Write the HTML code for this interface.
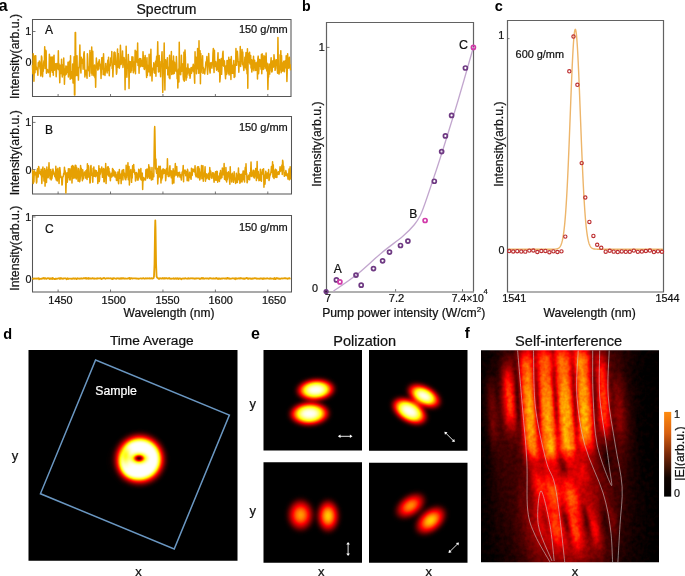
<!DOCTYPE html>
<html><head><meta charset="utf-8"><style>
html,body{margin:0;padding:0;background:#fff;width:685px;height:576px;overflow:hidden}
svg{display:block;font-family:"Liberation Sans", sans-serif;will-change:transform}
</style></head><body>
<svg width="685" height="576" viewBox="0 0 685 576">
<rect width="685" height="576" fill="#fff"/>
<rect x="32.5" y="19.5" width="258.5" height="77.0" fill="#fff" stroke="none"/>
<line x1="58.1" y1="96.5" x2="58.1" y2="94" stroke="#555" stroke-width="0.8"/>
<line x1="110.53" y1="96.5" x2="110.53" y2="94" stroke="#555" stroke-width="0.8"/>
<line x1="162.95" y1="96.5" x2="162.95" y2="94" stroke="#555" stroke-width="0.8"/>
<line x1="215.38" y1="96.5" x2="215.38" y2="94" stroke="#555" stroke-width="0.8"/>
<line x1="267.8" y1="96.5" x2="267.8" y2="94" stroke="#555" stroke-width="0.8"/>
<line x1="32.5" y1="31.5" x2="35.5" y2="31.5" stroke="#555" stroke-width="0.8"/>
<line x1="32.5" y1="62.2" x2="35.5" y2="62.2" stroke="#555" stroke-width="0.8"/>
<path d="M32.5,19.5 H291.0 V96.5 H32.5 Z" fill="none" stroke="#555" stroke-width="1.05"/>
<polyline points="32.50,64.87 32.86,73.74 33.22,53.85 33.58,65.41 33.94,81.27 34.29,70.42 34.65,56.04 35.01,72.74 35.37,55.99 35.73,55.70 36.09,69.27 36.45,66.99 36.81,69.36 37.16,69.96 37.52,71.06 37.88,75.30 38.24,62.65 38.60,66.72 38.96,64.48 39.32,61.11 39.68,62.09 40.04,69.03 40.39,67.72 40.75,76.00 41.11,66.66 41.47,56.00 41.83,57.63 42.19,72.73 42.55,76.74 42.91,69.58 43.26,71.21 43.62,63.07 43.98,60.67 44.34,63.50 44.70,46.76 45.06,68.49 45.42,54.32 45.78,50.19 46.14,51.23 46.49,73.15 46.85,70.05 47.21,69.46 47.57,69.97 47.93,70.11 48.29,72.75 48.65,69.89 49.01,71.91 49.37,54.36 49.72,57.62 50.08,76.86 50.44,68.34 50.80,70.45 51.16,56.97 51.52,63.37 51.88,60.28 52.24,72.32 52.59,56.95 52.95,64.18 53.31,75.31 53.67,59.26 54.03,55.13 54.39,70.22 54.75,68.34 55.11,67.02 55.47,63.66 55.82,67.95 56.18,76.74 56.54,69.92 56.90,63.40 57.26,63.81 57.62,64.09 57.98,68.91 58.34,50.84 58.69,69.85 59.05,63.69 59.41,70.92 59.77,82.70 60.13,69.08 60.49,65.32 60.85,66.47 61.21,73.62 61.57,59.33 61.92,72.78 62.28,77.05 62.64,65.04 63.00,71.49 63.36,74.65 63.72,58.00 64.08,68.80 64.44,84.28 64.79,73.07 65.15,68.83 65.51,74.90 65.87,66.12 66.23,74.18 66.59,66.47 66.95,69.76 67.31,72.58 67.67,72.50 68.02,62.15 68.38,76.93 68.74,73.56 69.10,68.69 69.46,61.21 69.82,62.91 70.18,79.13 70.54,55.85 70.89,78.18 71.25,71.56 71.61,71.65 71.97,76.46 72.33,78.79 72.69,64.07 73.05,83.10 73.41,78.38 73.77,67.22 74.12,56.71 74.48,95.00 74.84,95.00 75.20,32.50 75.56,32.50 75.92,75.64 76.28,64.28 76.64,74.47 77.00,55.64 77.35,75.58 77.71,67.18 78.07,68.18 78.43,80.11 78.79,68.49 79.15,66.80 79.51,59.70 79.87,45.09 80.22,63.86 80.58,67.75 80.94,72.90 81.30,57.15 81.66,63.13 82.02,61.28 82.38,62.02 82.74,59.20 83.10,69.26 83.45,62.50 83.81,53.79 84.17,51.76 84.53,60.58 84.89,77.04 85.25,71.03 85.61,74.78 85.97,70.20 86.32,71.64 86.68,74.24 87.04,78.29 87.40,53.76 87.76,59.13 88.12,69.69 88.48,68.73 88.84,70.88 89.20,66.75 89.55,76.16 89.91,50.54 90.27,62.16 90.63,52.62 90.99,58.81 91.35,73.12 91.71,47.10 92.07,75.26 92.42,66.91 92.78,51.20 93.14,70.79 93.50,72.68 93.86,75.83 94.22,65.77 94.58,65.03 94.94,77.78 95.30,70.61 95.65,87.32 96.01,70.27 96.37,57.97 96.73,65.45 97.09,63.34 97.45,67.19 97.81,70.10 98.17,66.25 98.53,61.64 98.88,69.01 99.24,59.70 99.60,63.85 99.96,63.88 100.32,65.08 100.68,66.74 101.04,78.60 101.40,66.99 101.75,57.71 102.11,57.99 102.47,69.06 102.83,57.36 103.19,74.68 103.55,53.73 103.91,67.80 104.27,74.20 104.63,69.12 104.98,75.42 105.34,70.95 105.70,63.61 106.06,69.44 106.42,68.60 106.78,70.70 107.14,72.92 107.50,63.35 107.85,60.04 108.21,70.59 108.57,57.14 108.93,66.10 109.29,75.73 109.65,65.05 110.01,66.25 110.37,65.26 110.73,57.94 111.08,60.74 111.44,62.00 111.80,51.61 112.16,68.58 112.52,64.46 112.88,76.86 113.24,68.17 113.60,63.50 113.95,52.67 114.31,52.11 114.67,64.24 115.03,52.48 115.39,57.44 115.75,64.62 116.11,65.99 116.47,74.19 116.83,71.88 117.18,57.12 117.54,49.12 117.90,67.19 118.26,53.40 118.62,62.47 118.98,61.64 119.34,68.23 119.70,65.85 120.05,62.27 120.41,45.36 120.77,53.30 121.13,64.44 121.49,61.38 121.85,60.86 122.21,62.60 122.57,50.94 122.93,67.50 123.28,64.50 123.64,60.00 124.00,57.49 124.36,59.05 124.72,62.90 125.08,89.76 125.44,59.92 125.80,69.34 126.16,46.22 126.51,65.81 126.87,77.19 127.23,66.77 127.59,67.91 127.95,64.97 128.31,54.45 128.67,63.17 129.03,88.56 129.38,69.14 129.74,61.62 130.10,65.27 130.46,66.10 130.82,72.41 131.18,61.53 131.54,70.75 131.90,56.78 132.26,56.87 132.61,66.22 132.97,57.03 133.33,72.79 133.69,71.63 134.05,69.10 134.41,61.71 134.77,66.93 135.13,50.26 135.48,73.67 135.84,52.02 136.20,51.33 136.56,61.72 136.92,60.14 137.28,62.46 137.64,43.01 138.00,65.58 138.36,61.07 138.71,59.51 139.07,73.15 139.43,59.82 139.79,58.40 140.15,65.10 140.51,66.68 140.87,58.74 141.23,63.60 141.58,60.19 141.94,66.11 142.30,62.30 142.66,66.41 143.02,51.63 143.38,58.40 143.74,57.46 144.10,68.62 144.46,69.51 144.81,66.73 145.17,55.52 145.53,64.73 145.89,64.37 146.25,70.08 146.61,77.52 146.97,57.64 147.33,75.59 147.68,67.60 148.04,65.49 148.40,65.61 148.76,71.68 149.12,54.27 149.48,68.84 149.84,68.36 150.20,75.85 150.56,62.26 150.91,49.18 151.27,68.36 151.63,67.80 151.99,80.95 152.35,69.73 152.71,69.88 153.07,68.20 153.43,67.92 153.79,62.72 154.14,72.68 154.50,63.97 154.86,73.25 155.22,71.87 155.58,61.27 155.94,76.25 156.30,60.93 156.66,56.33 157.01,66.29 157.37,58.70 157.73,41.70 158.09,62.47 158.45,71.92 158.81,69.17 159.17,55.62 159.53,71.53 159.89,64.82 160.24,67.84 160.60,76.78 160.96,61.51 161.32,65.83 161.68,57.51 162.04,51.77 162.40,69.70 162.76,92.45 163.11,71.64 163.47,67.91 163.83,62.96 164.19,43.08 164.55,71.47 164.91,90.07 165.27,62.03 165.63,59.78 165.99,65.53 166.34,65.71 166.70,68.53 167.06,64.32 167.42,57.65 167.78,74.87 168.14,72.39 168.50,67.56 168.86,67.50 169.21,77.67 169.57,55.13 169.93,78.84 170.29,67.72 170.65,65.96 171.01,65.25 171.37,51.42 171.73,74.42 172.09,63.25 172.44,61.20 172.80,70.62 173.16,73.95 173.52,56.08 173.88,66.76 174.24,73.54 174.60,62.37 174.96,69.54 175.32,70.12 175.67,64.61 176.03,71.55 176.39,56.44 176.75,64.09 177.11,78.74 177.47,70.53 177.83,87.88 178.19,75.34 178.54,69.03 178.90,81.94 179.26,42.13 179.62,73.95 179.98,72.10 180.34,68.47 180.70,74.71 181.06,67.83 181.42,55.31 181.77,71.17 182.13,63.66 182.49,68.05 182.85,64.08 183.21,76.38 183.57,79.89 183.93,52.33 184.29,81.32 184.64,72.31 185.00,50.09 185.36,56.93 185.72,70.97 186.08,80.28 186.44,70.52 186.80,77.78 187.16,67.73 187.52,74.04 187.87,63.89 188.23,72.22 188.59,68.24 188.95,70.57 189.31,75.49 189.67,69.01 190.03,78.19 190.39,75.11 190.74,69.64 191.10,67.50 191.46,73.27 191.82,71.93 192.18,70.25 192.54,67.16 192.90,66.74 193.26,64.34 193.62,71.71 193.97,65.49 194.33,76.56 194.69,83.23 195.05,51.73 195.41,67.12 195.77,63.90 196.13,57.37 196.49,73.76 196.84,60.01 197.20,68.87 197.56,48.52 197.92,56.50 198.28,62.20 198.64,73.14 199.00,40.76 199.36,65.25 199.72,72.95 200.07,50.80 200.43,83.75 200.79,53.57 201.15,72.53 201.51,63.64 201.87,68.22 202.23,62.87 202.59,55.71 202.95,73.36 203.30,67.37 203.66,72.48 204.02,69.41 204.38,69.24 204.74,73.88 205.10,70.14 205.46,67.25 205.82,62.63 206.17,61.43 206.53,61.26 206.89,56.59 207.25,69.53 207.61,74.19 207.97,66.42 208.33,66.01 208.69,53.55 209.05,61.86 209.40,65.46 209.76,70.88 210.12,73.04 210.48,63.08 210.84,62.79 211.20,62.65 211.56,64.69 211.92,68.26 212.27,63.78 212.63,63.51 212.99,52.84 213.35,48.39 213.71,65.77 214.07,72.59 214.43,50.17 214.79,65.16 215.15,61.16 215.50,66.55 215.86,61.74 216.22,66.48 216.58,70.17 216.94,69.30 217.30,66.23 217.66,59.32 218.02,52.68 218.37,71.49 218.73,70.81 219.09,71.35 219.45,59.51 219.81,82.01 220.17,78.30 220.53,67.17 220.89,60.73 221.25,58.54 221.60,74.37 221.96,65.68 222.32,63.71 222.68,53.64 223.04,51.25 223.40,65.52 223.76,66.22 224.12,60.62 224.47,61.18 224.83,69.06 225.19,73.19 225.55,78.82 225.91,65.93 226.27,67.21 226.63,74.40 226.99,60.42 227.35,60.45 227.70,65.99 228.06,69.38 228.42,73.54 228.78,57.19 229.14,74.94 229.50,66.09 229.86,60.98 230.22,59.60 230.58,65.48 230.93,79.38 231.29,56.55 231.65,67.65 232.01,73.17 232.37,65.40 232.73,67.47 233.09,73.14 233.45,66.04 233.80,60.57 234.16,77.45 234.52,68.28 234.88,76.74 235.24,64.41 235.60,63.41 235.96,48.48 236.32,63.76 236.68,65.29 237.03,59.01 237.39,51.21 237.75,56.43 238.11,60.64 238.47,61.96 238.83,72.18 239.19,63.50 239.55,61.76 239.90,61.84 240.26,46.48 240.62,66.55 240.98,58.13 241.34,55.16 241.70,54.56 242.06,49.51 242.42,64.23 242.78,51.97 243.13,65.76 243.49,66.21 243.85,70.52 244.21,63.51 244.57,62.69 244.93,57.13 245.29,67.75 245.65,58.07 246.00,52.60 246.36,69.41 246.72,64.87 247.08,73.68 247.44,48.73 247.80,88.22 248.16,53.22 248.52,62.70 248.88,62.52 249.23,53.22 249.59,52.25 249.95,63.92 250.31,63.30 250.67,55.47 251.03,67.94 251.39,59.59 251.75,72.03 252.11,69.47 252.46,60.18 252.82,68.69 253.18,63.41 253.54,56.29 253.90,70.73 254.26,64.23 254.62,60.26 254.98,66.99 255.33,62.69 255.69,70.42 256.05,63.07 256.41,66.05 256.77,70.13 257.13,62.12 257.49,79.08 257.85,58.30 258.21,56.12 258.56,73.74 258.92,69.34 259.28,59.50 259.64,59.43 260.00,66.15 260.36,60.34 260.72,65.58 261.08,69.23 261.43,54.41 261.79,73.85 262.15,53.67 262.51,62.41 262.87,61.26 263.23,69.51 263.59,59.10 263.95,55.61 264.31,66.19 264.66,56.38 265.02,68.67 265.38,61.84 265.74,61.41 266.10,52.96 266.46,65.25 266.82,71.05 267.18,63.19 267.53,68.99 267.89,89.55 268.25,75.33 268.61,76.93 268.97,64.05 269.33,71.79 269.69,74.10 270.05,63.89 270.41,66.31 270.76,62.47 271.12,57.86 271.48,70.77 271.84,72.07 272.20,70.92 272.56,61.20 272.92,60.80 273.28,67.21 273.63,66.45 273.99,54.74 274.35,60.25 274.71,59.14 275.07,70.36 275.43,68.66 275.79,61.21 276.15,60.96 276.51,59.67 276.86,59.83 277.22,68.40 277.58,73.22 277.94,37.56 278.30,65.51 278.66,70.45 279.02,74.06 279.38,71.22 279.74,69.37 280.09,54.83 280.45,63.49 280.81,50.63 281.17,72.76 281.53,55.45 281.89,71.18 282.25,62.80 282.61,65.97 282.96,71.05 283.32,64.79 283.68,61.14 284.04,68.42 284.40,71.81 284.76,61.36 285.12,60.83 285.48,67.29 285.84,67.90 286.19,55.82 286.55,67.15 286.91,81.48 287.27,69.82 287.63,53.78 287.99,61.63 288.35,63.95 288.71,68.14 289.06,60.95 289.42,57.30 289.78,67.25 290.14,64.49 290.50,70.41" fill="none" stroke="#E6A002" stroke-width="1.5" stroke-linejoin="round"/>
<text x="28.2" y="35.4" font-size="10.8" text-anchor="middle" font-weight="normal" fill="#111" stroke="#111" stroke-width="0.22" >1</text>
<text x="28.6" y="66.1" font-size="10.8" text-anchor="middle" font-weight="normal" fill="#111" stroke="#111" stroke-width="0.22" >0</text>
<text x="45" y="34.1" font-size="12" text-anchor="start" font-weight="normal" fill="#111" stroke="#111" stroke-width="0.22" >A</text>
<text x="287.8" y="33.1" font-size="11.0" text-anchor="end" font-weight="normal" fill="#111" stroke="#111" stroke-width="0.22" >150 g/mm</text>
<text x="0" y="0" font-size="12.25" text-anchor="middle" font-weight="normal" fill="#111" stroke="#111" stroke-width="0.22" transform="translate(19.0,56.5) rotate(-90)">Intensity(arb.u.)</text>
<rect x="32.5" y="116.5" width="258.5" height="77.5" fill="#fff" stroke="none"/>
<line x1="58.1" y1="194" x2="58.1" y2="191.5" stroke="#555" stroke-width="0.8"/>
<line x1="110.53" y1="194" x2="110.53" y2="191.5" stroke="#555" stroke-width="0.8"/>
<line x1="162.95" y1="194" x2="162.95" y2="191.5" stroke="#555" stroke-width="0.8"/>
<line x1="215.38" y1="194" x2="215.38" y2="191.5" stroke="#555" stroke-width="0.8"/>
<line x1="267.8" y1="194" x2="267.8" y2="191.5" stroke="#555" stroke-width="0.8"/>
<line x1="32.5" y1="122.4" x2="35.5" y2="122.4" stroke="#555" stroke-width="0.8"/>
<line x1="32.5" y1="169.6" x2="35.5" y2="169.6" stroke="#555" stroke-width="0.8"/>
<path d="M32.5,116.5 H291.5 V194.0 H32.5 Z" fill="none" stroke="#555" stroke-width="1.05"/>
<polyline points="32.50,169.43 32.86,178.18 33.22,183.47 33.58,171.41 33.94,182.00 34.29,170.81 34.65,174.43 35.01,174.67 35.37,173.30 35.73,172.32 36.09,176.00 36.45,183.08 36.81,181.84 37.16,170.48 37.52,168.83 37.88,169.98 38.24,177.08 38.60,166.42 38.96,167.50 39.32,173.44 39.68,171.47 40.04,173.61 40.39,173.21 40.75,174.85 41.11,169.37 41.47,175.03 41.83,183.53 42.19,175.07 42.55,170.22 42.91,167.09 43.26,176.45 43.62,174.24 43.98,180.89 44.34,175.82 44.70,168.40 45.06,186.11 45.42,175.71 45.78,174.04 46.14,169.96 46.49,182.59 46.85,167.07 47.21,173.64 47.57,169.78 47.93,177.73 48.29,177.24 48.65,170.97 49.01,162.67 49.37,174.71 49.72,173.32 50.08,178.85 50.44,170.07 50.80,169.43 51.16,179.88 51.52,171.80 51.88,178.65 52.24,175.85 52.59,171.37 52.95,169.07 53.31,171.13 53.67,171.67 54.03,174.72 54.39,173.23 54.75,176.34 55.11,174.11 55.47,177.84 55.82,166.25 56.18,179.93 56.54,169.15 56.90,174.89 57.26,181.03 57.62,169.75 57.98,168.18 58.34,178.77 58.69,177.11 59.05,183.52 59.41,174.09 59.77,167.46 60.13,170.60 60.49,174.69 60.85,177.60 61.21,177.21 61.57,177.09 61.92,185.03 62.28,184.63 62.64,176.89 63.00,176.87 63.36,175.88 63.72,173.17 64.08,174.00 64.44,167.18 64.79,170.92 65.15,170.62 65.51,175.47 65.87,193.00 66.23,182.25 66.59,176.14 66.95,172.66 67.31,182.26 67.67,173.67 68.02,175.33 68.38,168.70 68.74,177.62 69.10,170.62 69.46,179.87 69.82,168.70 70.18,180.02 70.54,171.14 70.89,173.00 71.25,172.00 71.61,166.18 71.97,182.96 72.33,173.09 72.69,165.58 73.05,178.39 73.41,166.31 73.77,168.28 74.12,177.68 74.48,174.10 74.84,177.90 75.20,165.21 75.56,177.49 75.92,165.42 76.28,178.92 76.64,167.25 77.00,172.86 77.35,175.56 77.71,176.32 78.07,181.28 78.43,168.58 78.79,169.71 79.15,173.81 79.51,181.73 79.87,181.19 80.22,178.48 80.58,165.54 80.94,169.48 81.30,168.14 81.66,175.14 82.02,177.29 82.38,180.79 82.74,169.80 83.10,177.56 83.45,178.85 83.81,174.35 84.17,175.08 84.53,171.88 84.89,173.58 85.25,174.42 85.61,178.09 85.97,170.60 86.32,175.46 86.68,169.82 87.04,179.55 87.40,163.84 87.76,175.47 88.12,177.35 88.48,165.86 88.84,171.27 89.20,175.95 89.55,173.61 89.91,182.97 90.27,182.41 90.63,167.11 90.99,165.47 91.35,171.76 91.71,175.15 92.07,174.46 92.42,175.45 92.78,182.29 93.14,168.34 93.50,175.64 93.86,166.89 94.22,176.28 94.58,174.68 94.94,172.01 95.30,170.19 95.65,176.80 96.01,176.03 96.37,170.68 96.73,173.71 97.09,172.99 97.45,172.59 97.81,183.46 98.17,175.49 98.53,179.52 98.88,165.85 99.24,181.62 99.60,178.95 99.96,168.85 100.32,174.05 100.68,171.00 101.04,170.89 101.40,171.39 101.75,166.99 102.11,172.17 102.47,177.36 102.83,174.85 103.19,169.12 103.55,168.51 103.91,181.69 104.27,181.80 104.63,176.09 104.98,168.95 105.34,173.26 105.70,163.47 106.06,183.43 106.42,175.95 106.78,175.07 107.14,172.37 107.50,166.93 107.85,174.53 108.21,166.83 108.57,175.97 108.93,168.37 109.29,176.08 109.65,171.71 110.01,176.84 110.37,180.71 110.73,175.38 111.08,174.67 111.44,173.34 111.80,176.98 112.16,176.27 112.52,168.43 112.88,173.63 113.24,169.54 113.60,175.84 113.95,170.52 114.31,173.64 114.67,174.55 115.03,177.10 115.39,172.05 115.75,172.87 116.11,176.81 116.47,180.40 116.83,175.04 117.18,180.21 117.54,179.98 117.90,171.88 118.26,181.58 118.62,183.72 118.98,178.59 119.34,169.47 119.70,174.65 120.05,178.34 120.41,174.47 120.77,175.12 121.13,183.62 121.49,173.61 121.85,172.25 122.21,170.15 122.57,172.51 122.93,180.06 123.28,169.71 123.64,169.61 124.00,175.22 124.36,172.90 124.72,176.34 125.08,178.53 125.44,179.67 125.80,179.83 126.16,165.20 126.51,177.79 126.87,170.01 127.23,175.43 127.59,170.57 127.95,162.75 128.31,179.75 128.67,178.16 129.03,166.41 129.38,184.94 129.74,171.75 130.10,171.61 130.46,171.30 130.82,169.56 131.18,176.76 131.54,182.36 131.90,173.04 132.26,178.03 132.61,165.67 132.97,172.31 133.33,171.80 133.69,164.55 134.05,171.93 134.41,169.84 134.77,174.12 135.13,172.52 135.48,181.08 135.84,180.20 136.20,173.44 136.56,172.45 136.92,174.51 137.28,173.85 137.64,179.71 138.00,180.18 138.36,178.36 138.71,169.36 139.07,172.62 139.43,169.91 139.79,177.02 140.15,174.41 140.51,178.93 140.87,168.57 141.23,179.98 141.58,178.16 141.94,173.44 142.30,173.13 142.66,189.45 143.02,177.14 143.38,177.70 143.74,180.53 144.10,178.10 144.46,178.95 144.81,178.53 145.17,178.84 145.53,179.95 145.89,169.86 146.25,170.58 146.61,176.04 146.97,169.01 147.33,178.16 147.68,169.53 148.04,176.87 148.40,176.25 148.76,164.75 149.12,176.68 149.48,178.45 149.84,167.33 150.20,171.56 150.56,177.88 150.91,171.80 151.27,179.99 151.63,178.29 151.99,167.45 152.35,177.67 152.71,179.61 153.07,174.23 153.43,174.61 153.79,176.70 154.14,152.43 154.50,130.38 154.70,126.60 154.86,130.61 155.22,151.61 155.58,169.09 155.94,159.09 156.30,171.30 156.66,173.36 157.01,170.90 157.37,168.38 157.73,183.94 158.09,178.49 158.45,177.39 158.81,166.26 159.17,170.41 159.53,168.61 159.89,176.90 160.24,166.17 160.60,172.84 160.96,182.91 161.32,173.18 161.68,179.85 162.04,169.94 162.40,177.91 162.76,171.11 163.11,168.75 163.47,173.78 163.83,169.89 164.19,169.59 164.55,173.27 164.91,173.13 165.27,170.22 165.63,180.77 165.99,177.52 166.34,169.08 166.70,168.37 167.06,174.31 167.42,158.83 167.78,171.18 168.14,176.24 168.50,176.19 168.86,176.64 169.21,176.05 169.57,168.10 169.93,165.76 170.29,175.01 170.65,170.49 171.01,176.31 171.37,177.75 171.73,170.90 172.09,172.53 172.44,183.77 172.80,177.94 173.16,168.75 173.52,177.08 173.88,182.92 174.24,170.93 174.60,176.32 174.96,171.16 175.32,163.50 175.67,175.05 176.03,174.09 176.39,171.52 176.75,166.57 177.11,175.47 177.47,172.79 177.83,176.91 178.19,172.48 178.54,173.68 178.90,173.11 179.26,175.42 179.62,172.35 179.98,177.12 180.34,174.39 180.70,175.45 181.06,178.18 181.42,180.07 181.77,175.25 182.13,171.89 182.49,174.81 182.85,171.27 183.21,165.44 183.57,181.77 183.93,170.29 184.29,173.42 184.64,172.48 185.00,169.93 185.36,170.97 185.72,175.78 186.08,174.80 186.44,171.41 186.80,172.03 187.16,180.82 187.52,169.31 187.87,171.23 188.23,176.80 188.59,180.83 188.95,177.32 189.31,176.44 189.67,172.18 190.03,174.28 190.39,177.76 190.74,177.82 191.10,179.29 191.46,168.30 191.82,175.10 192.18,175.35 192.54,170.42 192.90,168.98 193.26,171.58 193.62,169.40 193.97,170.72 194.33,170.66 194.69,172.09 195.05,165.63 195.41,174.52 195.77,175.57 196.13,176.88 196.49,174.06 196.84,176.35 197.20,168.17 197.56,166.89 197.92,177.82 198.28,177.47 198.64,166.66 199.00,177.44 199.36,168.70 199.72,180.00 200.07,179.08 200.43,173.92 200.79,172.05 201.15,173.94 201.51,165.51 201.87,178.78 202.23,172.70 202.59,173.75 202.95,165.79 203.30,181.20 203.66,176.93 204.02,176.77 204.38,173.61 204.74,172.27 205.10,166.79 205.46,181.23 205.82,173.58 206.17,178.89 206.53,176.46 206.89,173.98 207.25,177.24 207.61,175.20 207.97,178.36 208.33,178.89 208.69,173.28 209.05,178.67 209.40,179.56 209.76,167.52 210.12,172.60 210.48,170.75 210.84,171.92 211.20,177.73 211.56,177.35 211.92,178.29 212.27,176.17 212.63,172.63 212.99,175.45 213.35,172.88 213.71,178.05 214.07,182.29 214.43,174.22 214.79,180.45 215.15,173.81 215.50,171.78 215.86,176.41 216.22,180.25 216.58,171.24 216.94,172.41 217.30,171.54 217.66,182.21 218.02,175.75 218.37,176.95 218.73,180.40 219.09,178.32 219.45,181.40 219.81,173.02 220.17,177.00 220.53,170.47 220.89,178.72 221.25,174.55 221.60,175.82 221.96,177.58 222.32,168.05 222.68,169.20 223.04,174.85 223.40,173.06 223.76,173.84 224.12,163.41 224.47,179.13 224.83,172.16 225.19,176.79 225.55,179.96 225.91,167.54 226.27,173.82 226.63,181.92 226.99,172.76 227.35,179.64 227.70,177.79 228.06,174.03 228.42,171.75 228.78,174.10 229.14,173.54 229.50,180.47 229.86,184.23 230.22,166.72 230.58,176.71 230.93,174.66 231.29,174.48 231.65,182.01 232.01,174.00 232.37,173.28 232.73,179.36 233.09,176.98 233.45,182.32 233.80,179.98 234.16,171.66 234.52,179.41 234.88,178.77 235.24,178.51 235.60,183.57 235.96,182.54 236.32,173.15 236.68,175.90 237.03,177.44 237.39,182.47 237.75,174.91 238.11,175.48 238.47,167.91 238.83,179.79 239.19,176.44 239.55,174.02 239.90,183.17 240.26,181.36 240.62,181.84 240.98,174.57 241.34,176.24 241.70,174.34 242.06,181.98 242.42,176.35 242.78,174.40 243.13,170.93 243.49,179.64 243.85,171.19 244.21,179.12 244.57,181.92 244.93,171.59 245.29,167.36 245.65,174.18 246.00,163.86 246.36,173.26 246.72,173.59 247.08,182.76 247.44,181.58 247.80,176.44 248.16,179.33 248.52,175.31 248.88,175.17 249.23,176.82 249.59,179.84 249.95,172.56 250.31,176.16 250.67,171.29 251.03,161.95 251.39,172.91 251.75,176.54 252.11,174.72 252.46,173.16 252.82,172.36 253.18,170.19 253.54,176.93 253.90,170.56 254.26,178.03 254.62,176.28 254.98,173.25 255.33,173.71 255.69,168.55 256.05,175.70 256.41,180.57 256.77,174.78 257.13,161.53 257.49,178.01 257.85,172.89 258.21,171.45 258.56,174.25 258.92,180.69 259.28,175.97 259.64,174.73 260.00,180.34 260.36,169.14 260.72,172.42 261.08,177.72 261.43,181.34 261.79,172.29 262.15,174.55 262.51,169.44 262.87,170.46 263.23,173.44 263.59,168.81 263.95,187.20 264.31,175.02 264.66,178.22 265.02,184.13 265.38,175.23 265.74,171.22 266.10,173.10 266.46,173.43 266.82,178.39 267.18,178.47 267.53,172.93 267.89,177.01 268.25,175.81 268.61,169.42 268.97,180.50 269.33,179.05 269.69,176.34 270.05,174.03 270.41,174.99 270.76,173.01 271.12,170.75 271.48,166.43 271.84,168.16 272.20,172.42 272.56,161.78 272.92,176.89 273.28,164.64 273.63,175.47 273.99,178.52 274.35,175.98 274.71,171.62 275.07,170.26 275.43,169.20 275.79,177.37 276.15,174.55 276.51,170.10 276.86,177.41 277.22,171.99 277.58,172.87 277.94,174.23 278.30,172.52 278.66,171.66 279.02,174.40 279.38,172.82 279.74,170.62 280.09,166.65 280.45,171.14 280.81,169.31 281.17,170.19 281.53,170.79 281.89,165.12 282.25,174.52 282.61,160.23 282.96,161.99 283.32,170.30 283.68,166.28 284.04,173.99 284.40,176.33 284.76,172.87 285.12,175.58 285.48,173.65 285.84,170.55 286.19,172.37 286.55,175.14 286.91,175.83 287.27,174.17 287.63,174.61 287.99,179.11 288.35,173.21 288.71,175.48 289.06,169.10 289.42,179.86 289.78,178.78 290.14,166.67 290.50,179.54" fill="none" stroke="#E6A002" stroke-width="1.5" stroke-linejoin="round"/>
<text x="28.2" y="126.3" font-size="10.8" text-anchor="middle" font-weight="normal" fill="#111" stroke="#111" stroke-width="0.22" >1</text>
<text x="28.6" y="173.5" font-size="10.8" text-anchor="middle" font-weight="normal" fill="#111" stroke="#111" stroke-width="0.22" >0</text>
<text x="45" y="133.9" font-size="12" text-anchor="start" font-weight="normal" fill="#111" stroke="#111" stroke-width="0.22" >B</text>
<text x="287.8" y="130.7" font-size="11.0" text-anchor="end" font-weight="normal" fill="#111" stroke="#111" stroke-width="0.22" >150 g/mm</text>
<text x="0" y="0" font-size="12.25" text-anchor="middle" font-weight="normal" fill="#111" stroke="#111" stroke-width="0.22" transform="translate(19.0,152.8) rotate(-90)">Intensity(arb.u.)</text>
<rect x="32.5" y="215.5" width="258.5" height="76.5" fill="#fff" stroke="none"/>
<line x1="58.1" y1="292" x2="58.1" y2="289.5" stroke="#555" stroke-width="0.8"/>
<line x1="110.53" y1="292" x2="110.53" y2="289.5" stroke="#555" stroke-width="0.8"/>
<line x1="162.95" y1="292" x2="162.95" y2="289.5" stroke="#555" stroke-width="0.8"/>
<line x1="215.38" y1="292" x2="215.38" y2="289.5" stroke="#555" stroke-width="0.8"/>
<line x1="267.8" y1="292" x2="267.8" y2="289.5" stroke="#555" stroke-width="0.8"/>
<line x1="32.5" y1="216.9" x2="35.5" y2="216.9" stroke="#555" stroke-width="0.8"/>
<line x1="32.5" y1="278.6" x2="35.5" y2="278.6" stroke="#555" stroke-width="0.8"/>
<path d="M32.5,215.5 H291.5 V292.0 H32.5 Z" fill="none" stroke="#555" stroke-width="1.05"/>
<polyline points="32.50,278.03 33.02,278.80 33.53,278.83 34.05,278.38 34.57,278.53 35.09,278.69 35.60,278.48 36.12,278.77 36.64,278.52 37.15,278.67 37.67,278.52 38.19,278.14 38.70,278.26 39.22,279.27 39.74,278.57 40.26,278.82 40.77,278.78 41.29,278.92 41.81,278.63 42.32,278.36 42.84,278.50 43.36,278.03 43.87,278.45 44.39,278.72 44.91,277.98 45.43,278.55 45.94,278.70 46.46,278.82 46.98,278.28 47.49,278.34 48.01,278.05 48.53,278.25 49.05,278.63 49.56,279.00 50.08,278.22 50.60,278.83 51.11,278.60 51.63,278.38 52.15,279.03 52.66,277.89 53.18,278.48 53.70,278.55 54.22,279.02 54.73,278.94 55.25,279.05 55.77,278.53 56.28,278.74 56.80,278.83 57.32,278.62 57.83,278.59 58.35,278.46 58.87,278.40 59.39,278.20 59.90,278.97 60.42,278.39 60.94,277.99 61.45,278.56 61.97,278.49 62.49,278.54 63.01,278.94 63.52,278.47 64.04,278.44 64.56,278.32 65.07,278.49 65.59,278.39 66.11,278.55 66.62,279.26 67.14,278.60 67.66,278.29 68.18,278.97 68.69,278.71 69.21,278.70 69.73,278.67 70.24,278.70 70.76,278.66 71.28,278.84 71.79,278.74 72.31,278.83 72.83,278.38 73.35,278.50 73.86,278.32 74.38,278.73 74.90,278.70 75.41,278.39 75.93,278.64 76.45,279.14 76.96,278.80 77.48,278.23 78.00,278.48 78.52,278.65 79.03,278.49 79.55,278.59 80.07,278.79 80.58,278.58 81.10,278.23 81.62,278.67 82.14,278.48 82.65,278.53 83.17,278.36 83.69,278.16 84.20,278.20 84.72,278.41 85.24,278.24 85.75,277.84 86.27,278.78 86.79,278.22 87.31,278.32 87.82,278.63 88.34,277.91 88.86,278.83 89.37,278.31 89.89,278.66 90.41,278.38 90.92,278.57 91.44,278.53 91.96,278.50 92.48,278.06 92.99,278.14 93.51,278.49 94.03,278.84 94.54,278.37 95.06,278.63 95.58,278.54 96.10,278.62 96.61,278.74 97.13,278.14 97.65,278.57 98.16,278.46 98.68,278.42 99.20,278.29 99.71,278.31 100.23,278.25 100.75,278.23 101.27,279.11 101.78,278.91 102.30,278.50 102.82,278.68 103.33,278.26 103.85,277.82 104.37,278.06 104.88,278.53 105.40,278.85 105.92,278.49 106.44,278.26 106.95,278.44 107.47,278.26 107.99,278.16 108.50,278.44 109.02,278.40 109.54,278.30 110.06,278.28 110.57,278.27 111.09,278.56 111.61,278.84 112.12,278.45 112.64,279.04 113.16,278.11 113.67,278.57 114.19,278.22 114.71,278.46 115.23,278.52 115.74,278.64 116.26,278.78 116.78,278.36 117.29,278.20 117.81,278.45 118.33,278.57 118.84,278.33 119.36,278.72 119.88,278.91 120.40,278.15 120.91,278.59 121.43,278.75 121.95,278.03 122.46,278.55 122.98,278.45 123.50,278.15 124.02,278.82 124.53,278.55 125.05,278.38 125.57,278.61 126.08,278.66 126.60,278.69 127.12,278.64 127.63,278.60 128.15,278.21 128.67,278.40 129.19,278.53 129.70,277.83 130.22,279.02 130.74,278.41 131.25,278.24 131.77,278.06 132.29,278.56 132.80,278.51 133.32,278.36 133.84,278.40 134.36,278.28 134.87,278.32 135.39,278.48 135.91,278.34 136.42,278.67 136.94,278.47 137.46,278.53 137.97,278.60 138.49,278.81 139.01,278.65 139.53,278.56 140.04,278.46 140.56,278.30 141.08,278.42 141.59,278.67 142.11,278.56 142.63,278.41 143.15,278.18 143.66,278.13 144.18,278.58 144.70,278.75 145.21,278.59 145.73,278.17 146.25,278.45 146.76,278.55 147.28,278.28 147.80,278.58 148.32,278.45 148.83,278.30 149.35,278.20 149.87,278.70 150.38,278.59 150.90,278.28 151.42,278.24 151.93,278.68 152.45,278.53 152.97,278.12 153.49,278.23 154.00,276.43 154.52,264.09 155.04,229.35 155.30,220.40 155.55,228.50 156.07,263.99 156.59,276.45 157.11,277.59 157.62,277.90 158.14,278.33 158.66,278.80 159.17,278.24 159.69,278.83 160.21,278.55 160.72,278.23 161.24,278.56 161.76,278.64 162.28,278.28 162.79,277.98 163.31,278.59 163.83,278.23 164.34,278.61 164.86,278.03 165.38,278.47 165.89,278.30 166.41,278.14 166.93,278.44 167.45,278.54 167.96,278.36 168.48,278.21 169.00,278.55 169.51,278.07 170.03,278.63 170.55,278.62 171.07,278.91 171.58,278.71 172.10,278.59 172.62,278.56 173.13,278.51 173.65,278.18 174.17,278.86 174.68,278.63 175.20,278.43 175.72,278.22 176.24,278.86 176.75,278.63 177.27,278.21 177.79,278.66 178.30,278.96 178.82,278.49 179.34,278.60 179.85,278.40 180.37,278.35 180.89,278.76 181.41,279.25 181.92,278.53 182.44,278.47 182.96,278.69 183.47,278.43 183.99,278.68 184.51,278.70 185.03,278.25 185.54,278.24 186.06,278.48 186.58,278.70 187.09,278.57 187.61,278.80 188.13,278.17 188.64,278.62 189.16,278.35 189.68,278.52 190.20,278.58 190.71,278.26 191.23,278.44 191.75,278.22 192.26,278.56 192.78,278.29 193.30,278.38 193.81,278.55 194.33,278.34 194.85,278.78 195.37,278.35 195.88,278.71 196.40,278.57 196.92,278.25 197.43,278.45 197.95,278.30 198.47,278.41 198.98,278.43 199.50,278.94 200.02,278.40 200.54,278.88 201.05,278.61 201.57,278.18 202.09,277.94 202.60,278.66 203.12,278.02 203.64,278.67 204.16,278.75 204.67,278.59 205.19,278.45 205.71,278.44 206.22,278.56 206.74,278.43 207.26,278.37 207.77,278.41 208.29,278.78 208.81,278.35 209.33,278.59 209.84,278.22 210.36,278.33 210.88,278.17 211.39,278.45 211.91,278.67 212.43,278.57 212.94,278.38 213.46,278.65 213.98,278.42 214.50,278.59 215.01,278.57 215.53,278.63 216.05,277.90 216.56,278.18 217.08,278.69 217.60,278.47 218.12,279.04 218.63,278.44 219.15,278.37 219.67,278.86 220.18,278.63 220.70,278.96 221.22,278.62 221.73,278.45 222.25,278.68 222.77,278.31 223.29,278.39 223.80,278.37 224.32,278.45 224.84,278.69 225.35,278.38 225.87,278.58 226.39,278.38 226.90,278.71 227.42,277.83 227.94,278.45 228.46,278.54 228.97,278.24 229.49,278.74 230.01,278.55 230.52,278.81 231.04,278.73 231.56,278.65 232.08,278.46 232.59,278.24 233.11,278.45 233.63,278.39 234.14,278.56 234.66,278.39 235.18,279.24 235.69,278.11 236.21,278.78 236.73,278.39 237.25,278.44 237.76,278.72 238.28,278.50 238.80,278.21 239.31,278.60 239.83,278.45 240.35,278.00 240.86,278.55 241.38,278.25 241.90,278.32 242.42,278.62 242.93,278.57 243.45,278.43 243.97,279.02 244.48,278.60 245.00,278.35 245.52,278.56 246.04,278.47 246.55,277.97 247.07,278.12 247.59,278.16 248.10,279.00 248.62,278.46 249.14,278.43 249.65,278.36 250.17,278.74 250.69,278.51 251.21,278.91 251.72,278.69 252.24,278.90 252.76,278.47 253.27,278.59 253.79,278.40 254.31,278.46 254.82,278.08 255.34,278.36 255.86,278.27 256.38,278.34 256.89,278.79 257.41,278.56 257.93,278.80 258.44,278.71 258.96,278.72 259.48,278.74 259.99,278.35 260.51,278.69 261.03,278.42 261.55,278.37 262.06,278.79 262.58,279.02 263.10,278.26 263.61,278.92 264.13,278.70 264.65,278.30 265.17,278.57 265.68,278.59 266.20,278.59 266.72,278.41 267.23,278.19 267.75,278.51 268.27,278.71 268.78,278.69 269.30,278.66 269.82,278.77 270.34,278.26 270.85,278.49 271.37,278.58 271.89,278.74 272.40,278.54 272.92,278.62 273.44,278.53 273.95,279.01 274.47,277.97 274.99,278.49 275.51,279.10 276.02,278.56 276.54,278.06 277.06,278.53 277.57,278.15 278.09,278.34 278.61,278.55 279.13,278.91 279.64,278.61 280.16,278.66 280.68,278.75 281.19,278.55 281.71,278.29 282.23,278.48 282.74,278.58 283.26,278.43 283.78,278.34 284.30,278.41 284.81,278.14 285.33,278.25 285.85,278.48 286.36,278.41 286.88,278.51 287.40,278.84 287.91,278.57 288.43,278.49 288.95,278.22 289.47,278.24 289.98,278.59 290.50,278.29" fill="none" stroke="#E6A002" stroke-width="1.8" stroke-linejoin="round"/>
<text x="28.2" y="220.8" font-size="10.8" text-anchor="middle" font-weight="normal" fill="#111" stroke="#111" stroke-width="0.22" >1</text>
<text x="28.6" y="282.5" font-size="10.8" text-anchor="middle" font-weight="normal" fill="#111" stroke="#111" stroke-width="0.22" >0</text>
<text x="45" y="232.7" font-size="12" text-anchor="start" font-weight="normal" fill="#111" stroke="#111" stroke-width="0.22" >C</text>
<text x="287.8" y="231.1" font-size="11.0" text-anchor="end" font-weight="normal" fill="#111" stroke="#111" stroke-width="0.22" >150 g/mm</text>
<text x="0" y="0" font-size="12.25" text-anchor="middle" font-weight="normal" fill="#111" stroke="#111" stroke-width="0.22" transform="translate(19.0,248.2) rotate(-90)">Intensity(arb.u.)</text>
<text x="60.45" y="303.8" font-size="10.9" text-anchor="middle" font-weight="normal" fill="#111" stroke="#111" stroke-width="0.22" >1450</text>
<text x="113.7" y="303.8" font-size="10.9" text-anchor="middle" font-weight="normal" fill="#111" stroke="#111" stroke-width="0.22" >1500</text>
<text x="167.5" y="303.8" font-size="10.9" text-anchor="middle" font-weight="normal" fill="#111" stroke="#111" stroke-width="0.22" >1550</text>
<text x="220.65" y="303.8" font-size="10.9" text-anchor="middle" font-weight="normal" fill="#111" stroke="#111" stroke-width="0.22" >1600</text>
<text x="274.05" y="303.8" font-size="10.9" text-anchor="middle" font-weight="normal" fill="#111" stroke="#111" stroke-width="0.22" >1650</text>
<text x="169" y="317.2" font-size="12" text-anchor="middle" font-weight="normal" fill="#111" stroke="#111" stroke-width="0.22" >Wavelength (nm)</text>
<text x="166.5" y="13.9" font-size="14.0" text-anchor="middle" font-weight="normal" fill="#111" stroke="#111" stroke-width="0.22" >Spectrum</text>
<path d="M326.5,291.6 V22.5 H473.5 V291.6" fill="none" stroke="#626262" stroke-width="1.2"/>
<line x1="326" y1="292" x2="474" y2="292" stroke="#626262" stroke-width="1.1"/>
<line x1="395.6" y1="291.6" x2="395.6" y2="289.1" stroke="#555" stroke-width="0.8"/>
<line x1="462.5" y1="291.6" x2="462.5" y2="289.1" stroke="#555" stroke-width="0.8"/>
<line x1="326.5" y1="47.4" x2="329.5" y2="47.4" stroke="#555" stroke-width="0.8"/>
<path d="M333.4,291.2 C337.2,288.52 348.23,281.43 356.2,275.1 C364.17,268.77 373.38,259.72 381.2,253.2 C389.02,246.68 397.55,240.78 403.1,236 C408.65,231.22 411.6,228 414.5,224.5 C417.4,221 418.67,218.75 420.5,215 C422.33,211.25 423.2,208.5 425.5,202 C427.8,195.5 431.47,184.5 434.3,176 C437.13,167.5 438.52,163.67 442.5,151 C446.48,138.33 453.05,117.3 458.2,100 C463.35,82.7 470.87,56 473.4,47.2" fill="none" stroke="#C2A6CE" stroke-width="1.3"/>
<circle cx="336.4" cy="279.9" r="2.0" fill="none" stroke="#6F3A83" stroke-width="1.7"/>
<circle cx="356" cy="275.1" r="2.0" fill="none" stroke="#6F3A83" stroke-width="1.7"/>
<circle cx="361.2" cy="285.2" r="2.0" fill="none" stroke="#6F3A83" stroke-width="1.7"/>
<circle cx="373.5" cy="268.6" r="2.0" fill="none" stroke="#6F3A83" stroke-width="1.7"/>
<circle cx="382.6" cy="260.8" r="2.0" fill="none" stroke="#6F3A83" stroke-width="1.7"/>
<circle cx="389.5" cy="252.1" r="2.0" fill="none" stroke="#6F3A83" stroke-width="1.7"/>
<circle cx="400.5" cy="245.5" r="2.0" fill="none" stroke="#6F3A83" stroke-width="1.7"/>
<circle cx="407.9" cy="241.1" r="2.0" fill="none" stroke="#6F3A83" stroke-width="1.7"/>
<circle cx="434.3" cy="181.25" r="2.0" fill="none" stroke="#6F3A83" stroke-width="1.7"/>
<circle cx="441.65" cy="151.6" r="2.0" fill="none" stroke="#6F3A83" stroke-width="1.7"/>
<circle cx="445.4" cy="135.9" r="2.0" fill="none" stroke="#6F3A83" stroke-width="1.7"/>
<circle cx="451.6" cy="115.45" r="2.0" fill="none" stroke="#6F3A83" stroke-width="1.7"/>
<circle cx="465.4" cy="68" r="2.0" fill="none" stroke="#6F3A83" stroke-width="1.7"/>
<circle cx="339.9" cy="281.9" r="2.0" fill="none" stroke="#D23BAA" stroke-width="1.7"/>
<circle cx="425.1" cy="220.5" r="2.0" fill="none" stroke="#D23BAA" stroke-width="1.7"/>
<circle cx="473.4" cy="47.4" r="2.0" fill="none" stroke="#D23BAA" stroke-width="1.7"/>
<circle cx="326.1" cy="291.6" r="2.6" fill="#6F3A83"/>
<circle cx="326.1" cy="291.6" r="0.8" fill="#222"/>
<text x="321.8" y="50.5" font-size="10.8" text-anchor="middle" font-weight="normal" fill="#111" stroke="#111" stroke-width="0.22" >1</text>
<text x="315" y="291.8" font-size="10.8" text-anchor="middle" font-weight="normal" fill="#111" stroke="#111" stroke-width="0.22" >0</text>
<text x="328" y="302" font-size="10.8" text-anchor="middle" font-weight="normal" fill="#111" stroke="#111" stroke-width="0.22" >7</text>
<text x="396.5" y="302" font-size="11.2" text-anchor="middle" font-weight="normal" fill="#111" stroke="#111" stroke-width="0.22" >7.2</text>
<text x="451.8" y="302" font-size="10.4" text-anchor="start" font-weight="normal" fill="#111" stroke="#111" stroke-width="0.22" >7.4&#215;10</text>
<text x="483.4" y="294.3" font-size="7.6" text-anchor="start" font-weight="normal" fill="#111" stroke="#111" stroke-width="0.22" >4</text>
<text x="322.2" y="317.2" font-size="12.15" text-anchor="start" font-weight="normal" fill="#111" stroke="#111" stroke-width="0.22" >Pump power intensity (W/cm<tspan font-size="8" dy="-5">2</tspan><tspan dy="5">)</tspan></text>
<text x="333.7" y="272.5" font-size="12" text-anchor="start" font-weight="normal" fill="#111" stroke="#111" stroke-width="0.22" >A</text>
<text x="409.3" y="218.2" font-size="12" text-anchor="start" font-weight="normal" fill="#111" stroke="#111" stroke-width="0.22" >B</text>
<text x="459.1" y="49" font-size="12.4" text-anchor="start" font-weight="normal" fill="#111" stroke="#111" stroke-width="0.22" >C</text>
<text x="0" y="0" font-size="12.25" text-anchor="middle" font-weight="normal" fill="#111" stroke="#111" stroke-width="0.22" transform="translate(321.2,144.1) rotate(-90)">Intensity(arb.u.)</text>
<path d="M507.5,20.5 H663.5 V292 H507.5 Z" fill="none" stroke="#626262" stroke-width="1.2"/>
<line x1="507.5" y1="38.6" x2="509.5" y2="38.6" stroke="#555" stroke-width="0.8"/>
<line x1="507.5" y1="250" x2="509.5" y2="250" stroke="#555" stroke-width="0.8"/>
<polyline points="508.00,249.20 508.25,249.20 508.50,249.20 508.75,249.20 509.00,249.20 509.25,249.20 509.50,249.20 509.75,249.20 510.00,249.20 510.25,249.20 510.50,249.20 510.75,249.20 511.00,249.20 511.25,249.20 511.50,249.20 511.75,249.20 512.00,249.20 512.25,249.20 512.50,249.20 512.75,249.20 513.00,249.20 513.25,249.20 513.50,249.20 513.75,249.20 514.00,249.20 514.25,249.20 514.50,249.20 514.75,249.20 515.00,249.20 515.25,249.20 515.50,249.20 515.75,249.20 516.00,249.20 516.25,249.20 516.50,249.20 516.75,249.20 517.00,249.20 517.25,249.20 517.50,249.20 517.75,249.20 518.00,249.20 518.25,249.20 518.50,249.20 518.75,249.20 519.00,249.20 519.25,249.20 519.50,249.20 519.75,249.20 520.00,249.20 520.25,249.20 520.50,249.20 520.75,249.20 521.00,249.20 521.25,249.20 521.50,249.20 521.75,249.20 522.00,249.20 522.25,249.20 522.50,249.20 522.75,249.20 523.00,249.20 523.25,249.20 523.50,249.20 523.75,249.20 524.00,249.20 524.25,249.20 524.50,249.20 524.75,249.20 525.00,249.20 525.25,249.20 525.50,249.20 525.75,249.20 526.00,249.20 526.25,249.20 526.50,249.20 526.75,249.20 527.00,249.20 527.25,249.20 527.50,249.20 527.75,249.20 528.00,249.20 528.25,249.20 528.50,249.20 528.75,249.20 529.00,249.20 529.25,249.20 529.50,249.20 529.75,249.20 530.00,249.20 530.25,249.20 530.50,249.20 530.75,249.20 531.00,249.20 531.25,249.20 531.50,249.20 531.75,249.20 532.00,249.20 532.25,249.20 532.50,249.20 532.75,249.20 533.00,249.20 533.25,249.20 533.50,249.20 533.75,249.20 534.00,249.20 534.25,249.20 534.50,249.20 534.75,249.20 535.00,249.20 535.25,249.20 535.50,249.20 535.75,249.20 536.00,249.20 536.25,249.20 536.50,249.20 536.75,249.20 537.00,249.20 537.25,249.20 537.50,249.20 537.75,249.20 538.00,249.20 538.25,249.20 538.50,249.20 538.75,249.20 539.00,249.20 539.25,249.20 539.50,249.20 539.75,249.20 540.00,249.20 540.25,249.20 540.50,249.20 540.75,249.20 541.00,249.20 541.25,249.20 541.50,249.20 541.75,249.20 542.00,249.20 542.25,249.20 542.50,249.20 542.75,249.20 543.00,249.20 543.25,249.20 543.50,249.20 543.75,249.20 544.00,249.20 544.25,249.20 544.50,249.20 544.75,249.20 545.00,249.20 545.25,249.20 545.50,249.20 545.75,249.20 546.00,249.20 546.25,249.20 546.50,249.20 546.75,249.20 547.00,249.20 547.25,249.20 547.50,249.20 547.75,249.20 548.00,249.20 548.25,249.20 548.50,249.20 548.75,249.20 549.00,249.20 549.25,249.20 549.50,249.20 549.75,249.20 550.00,249.20 550.25,249.20 550.50,249.20 550.75,249.20 551.00,249.20 551.25,249.20 551.50,249.20 551.75,249.19 552.00,249.19 552.25,249.19 552.50,249.19 552.75,249.19 553.00,249.18 553.25,249.18 553.50,249.18 553.75,249.17 554.00,249.16 554.25,249.16 554.50,249.15 554.75,249.13 555.00,249.12 555.25,249.10 555.50,249.08 555.75,249.06 556.00,249.03 556.25,248.99 556.50,248.95 556.75,248.91 557.00,248.85 557.25,248.78 557.50,248.70 557.75,248.61 558.00,248.50 558.25,248.38 558.50,248.23 558.75,248.06 559.00,247.87 559.25,247.65 559.50,247.39 559.75,247.09 560.00,246.76 560.25,246.37 560.50,245.94 560.75,245.45 561.00,244.89 561.25,244.26 561.50,243.55 561.75,242.76 562.00,241.87 562.25,240.88 562.50,239.78 562.75,238.56 563.00,237.21 563.25,235.72 563.50,234.08 563.75,232.28 564.00,230.32 564.25,228.18 564.50,225.85 564.75,223.33 565.00,220.60 565.25,217.66 565.50,214.51 565.75,211.13 566.00,207.52 566.25,203.67 566.50,199.60 566.75,195.28 567.00,190.74 567.25,185.96 567.50,180.95 567.75,175.73 568.00,170.29 568.25,164.66 568.50,158.84 568.75,152.85 569.00,146.71 569.25,140.45 569.50,134.07 569.75,127.62 570.00,121.11 570.25,114.58 570.50,108.05 570.75,101.56 571.00,95.15 571.25,88.84 571.50,82.68 571.75,76.69 572.00,70.92 572.25,65.39 572.50,60.15 572.75,55.23 573.00,50.65 573.25,46.46 573.50,42.67 573.75,39.32 574.00,36.43 574.25,34.01 574.50,32.09 574.75,30.67 575.00,29.78 575.25,29.41 575.50,29.57 575.75,30.25 576.00,31.46 576.25,33.18 576.50,35.40 576.75,38.11 577.00,41.28 577.25,44.89 577.50,48.93 577.75,53.35 578.00,58.14 578.25,63.26 578.50,68.67 578.75,74.35 579.00,80.26 579.25,86.36 579.50,92.61 579.75,98.99 580.00,105.45 580.25,111.96 580.50,118.50 580.75,125.02 581.00,131.50 581.25,137.91 581.50,144.22 581.75,150.41 582.00,156.46 582.25,162.35 582.50,168.06 582.75,173.58 583.00,178.89 583.25,183.98 583.50,188.85 583.75,193.49 584.00,197.90 584.25,202.07 584.50,206.01 584.75,209.71 585.00,213.18 585.25,216.43 585.50,219.45 585.75,222.26 586.00,224.87 586.25,227.27 586.50,229.49 586.75,231.52 587.00,233.38 587.25,235.08 587.50,236.63 587.75,238.03 588.00,239.30 588.25,240.45 588.50,241.48 588.75,242.41 589.00,243.24 589.25,243.98 589.50,244.64 589.75,245.23 590.00,245.75 590.25,246.21 590.50,246.61 590.75,246.97 591.00,247.28 591.25,247.55 591.50,247.78 591.75,247.99 592.00,248.17 592.25,248.32 592.50,248.45 592.75,248.57 593.00,248.67 593.25,248.75 593.50,248.82 593.75,248.88 594.00,248.94 594.25,248.98 594.50,249.02 594.75,249.05 595.00,249.07 595.25,249.10 595.50,249.11 595.75,249.13 596.00,249.14 596.25,249.15 596.50,249.16 596.75,249.17 597.00,249.17 597.25,249.18 597.50,249.18 597.75,249.19 598.00,249.19 598.25,249.19 598.50,249.19 598.75,249.19 599.00,249.20 599.25,249.20 599.50,249.20 599.75,249.20 600.00,249.20 600.25,249.20 600.50,249.20 600.75,249.20 601.00,249.20 601.25,249.20 601.50,249.20 601.75,249.20 602.00,249.20 602.25,249.20 602.50,249.20 602.75,249.20 603.00,249.20 603.25,249.20 603.50,249.20 603.75,249.20 604.00,249.20 604.25,249.20 604.50,249.20 604.75,249.20 605.00,249.20 605.25,249.20 605.50,249.20 605.75,249.20 606.00,249.20 606.25,249.20 606.50,249.20 606.75,249.20 607.00,249.20 607.25,249.20 607.50,249.20 607.75,249.20 608.00,249.20 608.25,249.20 608.50,249.20 608.75,249.20 609.00,249.20 609.25,249.20 609.50,249.20 609.75,249.20 610.00,249.20 610.25,249.20 610.50,249.20 610.75,249.20 611.00,249.20 611.25,249.20 611.50,249.20 611.75,249.20 612.00,249.20 612.25,249.20 612.50,249.20 612.75,249.20 613.00,249.20 613.25,249.20 613.50,249.20 613.75,249.20 614.00,249.20 614.25,249.20 614.50,249.20 614.75,249.20 615.00,249.20 615.25,249.20 615.50,249.20 615.75,249.20 616.00,249.20 616.25,249.20 616.50,249.20 616.75,249.20 617.00,249.20 617.25,249.20 617.50,249.20 617.75,249.20 618.00,249.20 618.25,249.20 618.50,249.20 618.75,249.20 619.00,249.20 619.25,249.20 619.50,249.20 619.75,249.20 620.00,249.20 620.25,249.20 620.50,249.20 620.75,249.20 621.00,249.20 621.25,249.20 621.50,249.20 621.75,249.20 622.00,249.20 622.25,249.20 622.50,249.20 622.75,249.20 623.00,249.20 623.25,249.20 623.50,249.20 623.75,249.20 624.00,249.20 624.25,249.20 624.50,249.20 624.75,249.20 625.00,249.20 625.25,249.20 625.50,249.20 625.75,249.20 626.00,249.20 626.25,249.20 626.50,249.20 626.75,249.20 627.00,249.20 627.25,249.20 627.50,249.20 627.75,249.20 628.00,249.20 628.25,249.20 628.50,249.20 628.75,249.20 629.00,249.20 629.25,249.20 629.50,249.20 629.75,249.20 630.00,249.20 630.25,249.20 630.50,249.20 630.75,249.20 631.00,249.20 631.25,249.20 631.50,249.20 631.75,249.20 632.00,249.20 632.25,249.20 632.50,249.20 632.75,249.20 633.00,249.20 633.25,249.20 633.50,249.20 633.75,249.20 634.00,249.20 634.25,249.20 634.50,249.20 634.75,249.20 635.00,249.20 635.25,249.20 635.50,249.20 635.75,249.20 636.00,249.20 636.25,249.20 636.50,249.20 636.75,249.20 637.00,249.20 637.25,249.20 637.50,249.20 637.75,249.20 638.00,249.20 638.25,249.20 638.50,249.20 638.75,249.20 639.00,249.20 639.25,249.20 639.50,249.20 639.75,249.20 640.00,249.20 640.25,249.20 640.50,249.20 640.75,249.20 641.00,249.20 641.25,249.20 641.50,249.20 641.75,249.20 642.00,249.20 642.25,249.20 642.50,249.20 642.75,249.20 643.00,249.20 643.25,249.20 643.50,249.20 643.75,249.20 644.00,249.20 644.25,249.20 644.50,249.20 644.75,249.20 645.00,249.20 645.25,249.20 645.50,249.20 645.75,249.20 646.00,249.20 646.25,249.20 646.50,249.20 646.75,249.20 647.00,249.20 647.25,249.20 647.50,249.20 647.75,249.20 648.00,249.20 648.25,249.20 648.50,249.20 648.75,249.20 649.00,249.20 649.25,249.20 649.50,249.20 649.75,249.20 650.00,249.20 650.25,249.20 650.50,249.20 650.75,249.20 651.00,249.20 651.25,249.20 651.50,249.20 651.75,249.20 652.00,249.20 652.25,249.20 652.50,249.20 652.75,249.20 653.00,249.20 653.25,249.20 653.50,249.20 653.75,249.20 654.00,249.20 654.25,249.20 654.50,249.20 654.75,249.20 655.00,249.20 655.25,249.20 655.50,249.20 655.75,249.20 656.00,249.20 656.25,249.20 656.50,249.20 656.75,249.20 657.00,249.20 657.25,249.20 657.50,249.20 657.75,249.20 658.00,249.20 658.25,249.20 658.50,249.20 658.75,249.20 659.00,249.20 659.25,249.20 659.50,249.20 659.75,249.20 660.00,249.20 660.25,249.20 660.50,249.20 660.75,249.20 661.00,249.20 661.25,249.20 661.50,249.20 661.75,249.20 662.00,249.20 662.25,249.20 662.50,249.20 662.75,249.20 663.00,249.20" fill="none" stroke="#EDB56A" stroke-width="1.4"/>
<circle cx="509.2" cy="250.93" r="1.65" fill="none" stroke="#BD2F31" stroke-width="1.15"/>
<circle cx="513.22" cy="251.48" r="1.65" fill="none" stroke="#BD2F31" stroke-width="1.15"/>
<circle cx="517.24" cy="251.17" r="1.65" fill="none" stroke="#BD2F31" stroke-width="1.15"/>
<circle cx="521.26" cy="251.59" r="1.65" fill="none" stroke="#BD2F31" stroke-width="1.15"/>
<circle cx="525.28" cy="251.63" r="1.65" fill="none" stroke="#BD2F31" stroke-width="1.15"/>
<circle cx="529.3" cy="250.62" r="1.65" fill="none" stroke="#BD2F31" stroke-width="1.15"/>
<circle cx="533.32" cy="250.52" r="1.65" fill="none" stroke="#BD2F31" stroke-width="1.15"/>
<circle cx="537.34" cy="252.01" r="1.65" fill="none" stroke="#BD2F31" stroke-width="1.15"/>
<circle cx="541.36" cy="250.97" r="1.65" fill="none" stroke="#BD2F31" stroke-width="1.15"/>
<circle cx="545.38" cy="250.92" r="1.65" fill="none" stroke="#BD2F31" stroke-width="1.15"/>
<circle cx="549.4" cy="252.29" r="1.65" fill="none" stroke="#BD2F31" stroke-width="1.15"/>
<circle cx="553.42" cy="251.35" r="1.65" fill="none" stroke="#BD2F31" stroke-width="1.15"/>
<circle cx="557.44" cy="252.01" r="1.65" fill="none" stroke="#BD2F31" stroke-width="1.15"/>
<circle cx="561.46" cy="251.36" r="1.65" fill="none" stroke="#BD2F31" stroke-width="1.15"/>
<circle cx="565.3" cy="236.6" r="1.65" fill="none" stroke="#BD2F31" stroke-width="1.15"/>
<circle cx="569.3" cy="71.3" r="1.65" fill="none" stroke="#BD2F31" stroke-width="1.15"/>
<circle cx="573.5" cy="36.6" r="1.65" fill="none" stroke="#BD2F31" stroke-width="1.15"/>
<circle cx="577.4" cy="84.8" r="1.65" fill="none" stroke="#BD2F31" stroke-width="1.15"/>
<circle cx="581.7" cy="163.1" r="1.65" fill="none" stroke="#BD2F31" stroke-width="1.15"/>
<circle cx="585.3" cy="197.5" r="1.65" fill="none" stroke="#BD2F31" stroke-width="1.15"/>
<circle cx="589.4" cy="221.9" r="1.65" fill="none" stroke="#BD2F31" stroke-width="1.15"/>
<circle cx="593.4" cy="235.9" r="1.65" fill="none" stroke="#BD2F31" stroke-width="1.15"/>
<circle cx="597.2" cy="244.7" r="1.65" fill="none" stroke="#BD2F31" stroke-width="1.15"/>
<circle cx="601.25" cy="247.8" r="1.65" fill="none" stroke="#BD2F31" stroke-width="1.15"/>
<circle cx="605.68" cy="251.65" r="1.65" fill="none" stroke="#BD2F31" stroke-width="1.15"/>
<circle cx="609.7" cy="250.77" r="1.65" fill="none" stroke="#BD2F31" stroke-width="1.15"/>
<circle cx="613.72" cy="251.64" r="1.65" fill="none" stroke="#BD2F31" stroke-width="1.15"/>
<circle cx="617.74" cy="252.06" r="1.65" fill="none" stroke="#BD2F31" stroke-width="1.15"/>
<circle cx="621.76" cy="251.44" r="1.65" fill="none" stroke="#BD2F31" stroke-width="1.15"/>
<circle cx="625.78" cy="251.83" r="1.65" fill="none" stroke="#BD2F31" stroke-width="1.15"/>
<circle cx="629.8" cy="251.71" r="1.65" fill="none" stroke="#BD2F31" stroke-width="1.15"/>
<circle cx="633.82" cy="250.62" r="1.65" fill="none" stroke="#BD2F31" stroke-width="1.15"/>
<circle cx="637.84" cy="251.86" r="1.65" fill="none" stroke="#BD2F31" stroke-width="1.15"/>
<circle cx="641.86" cy="251.56" r="1.65" fill="none" stroke="#BD2F31" stroke-width="1.15"/>
<circle cx="645.88" cy="251.04" r="1.65" fill="none" stroke="#BD2F31" stroke-width="1.15"/>
<circle cx="649.9" cy="250.56" r="1.65" fill="none" stroke="#BD2F31" stroke-width="1.15"/>
<circle cx="653.92" cy="252.06" r="1.65" fill="none" stroke="#BD2F31" stroke-width="1.15"/>
<circle cx="657.94" cy="251.35" r="1.65" fill="none" stroke="#BD2F31" stroke-width="1.15"/>
<circle cx="661.96" cy="251.79" r="1.65" fill="none" stroke="#BD2F31" stroke-width="1.15"/>
<text x="501.3" y="38.9" font-size="10.8" text-anchor="middle" font-weight="normal" fill="#111" stroke="#111" stroke-width="0.22" >1</text>
<text x="501.6" y="253.9" font-size="10.8" text-anchor="middle" font-weight="normal" fill="#111" stroke="#111" stroke-width="0.22" >0</text>
<text x="514.35" y="302.2" font-size="10.8" text-anchor="middle" font-weight="normal" fill="#111" stroke="#111" stroke-width="0.22" >1541</text>
<text x="667.5" y="302.2" font-size="10.8" text-anchor="middle" font-weight="normal" fill="#111" stroke="#111" stroke-width="0.22" >1544</text>
<text x="589.6" y="316.5" font-size="12.2" text-anchor="middle" font-weight="normal" fill="#111" stroke="#111" stroke-width="0.22" >Wavelength (nm)</text>
<text x="515.6" y="57.8" font-size="10.9" text-anchor="start" font-weight="normal" fill="#111" stroke="#111" stroke-width="0.22" >600 g/mm</text>
<text x="0" y="0" font-size="12.25" text-anchor="middle" font-weight="normal" fill="#111" stroke="#111" stroke-width="0.22" transform="translate(502.9,144.1) rotate(-90)">Intensity(arb.u.)</text>
<text x="-1.6" y="10.7" font-size="16.5" text-anchor="start" font-weight="bold" fill="#000" >a</text>
<text x="301.9" y="10.9" font-size="14.2" text-anchor="start" font-weight="bold" fill="#000" >b</text>
<text x="494.7" y="10.9" font-size="14.5" text-anchor="start" font-weight="bold" fill="#000" >c</text>
<text x="3.2" y="339" font-size="14.5" text-anchor="start" font-weight="bold" fill="#000" >d</text>
<text x="251" y="338.6" font-size="16" text-anchor="start" font-weight="bold" fill="#000" >e</text>
<text x="464.8" y="338.2" font-size="15" text-anchor="start" font-weight="bold" fill="#000" >f</text>
<defs>
<filter id="hotD" x="0" y="0" width="1" height="1" color-interpolation-filters="sRGB">
  <feGaussianBlur stdDeviation="1.0"/>
  <feComponentTransfer>
    <feFuncR type="table" tableValues="0 1 1 1"/>
    <feFuncG type="table" tableValues="0 0 1 1"/>
    <feFuncB type="table" tableValues="0 0 0 1"/>
  </feComponentTransfer>
</filter>
<filter id="hotE" x="0" y="0" width="1" height="1" color-interpolation-filters="sRGB">
  <feGaussianBlur stdDeviation="2.2"/>
  <feComponentTransfer>
    <feFuncR type="table" tableValues="0 1 1 1"/>
    <feFuncG type="table" tableValues="0 0 1 1"/>
    <feFuncB type="table" tableValues="0 0 0 1"/>
  </feComponentTransfer>
</filter>
<filter id="hotF" x="0" y="0" width="1" height="1" color-interpolation-filters="sRGB">
  <feGaussianBlur in="SourceGraphic" stdDeviation="1.2" result="b"/>
  <feTurbulence type="fractalNoise" baseFrequency="0.22" numOctaves="2" seed="4" result="n"/>
  <feColorMatrix in="n" type="matrix" values="1 0 0 0 0  1 0 0 0 0  1 0 0 0 0  0 0 0 0 1" result="ng"/>
  <feComposite in="b" in2="ng" operator="arithmetic" k1="0.2" k2="0.9" k3="0.05" k4="-0.025" result="c"/>
  <feComponentTransfer in="c">
    <feFuncR type="table" tableValues="0 1 1 1"/>
    <feFuncG type="table" tableValues="0 0 1 1"/>
    <feFuncB type="table" tableValues="0 0 0 1"/>
  </feComponentTransfer>
</filter>
<linearGradient id="cbar" x1="0" y1="0" x2="0" y2="1">
  <stop offset="0" stop-color="#FF8C10"/>
  <stop offset="0.25" stop-color="#D86010"/>
  <stop offset="0.5" stop-color="#7A2A0A"/>
  <stop offset="0.78" stop-color="#100400"/>
  <stop offset="1" stop-color="#000"/>
</linearGradient>
</defs>
<clipPath id="clipd"><rect x="28.5" y="350" width="209" height="210.8"/></clipPath>
<g clip-path="url(#clipd)"><g filter="url(#hotD)">
<rect x="8.5" y="330" width="249" height="250.8" fill="#000"/>
<circle cx="139.9" cy="459.2" r="30" fill="url(#g1)"/>
<ellipse cx="131" cy="468" rx="18" ry="18" fill="url(#g2)" transform="rotate(0 131 468)" style="mix-blend-mode:plus-lighter"/>
<ellipse cx="136.5" cy="461" rx="31.5" ry="29.4" fill="url(#g3)" transform="rotate(0 136.5 461)" style="mix-blend-mode:plus-lighter"/>
<ellipse cx="139" cy="458.3" rx="10.92" ry="7.02" fill="url(#g4)" transform="rotate(0 139 458.3)"/>
<ellipse cx="125.5" cy="455.5" rx="9" ry="16.5" fill="url(#g5)" transform="rotate(0 125.5 455.5)"/>
</g></g>
<rect x="62.55" y="382.1" width="144.7" height="144.7" fill="none" stroke="#6A97C2" stroke-width="1.5" transform="rotate(22.4 134.9 454.45)"/>
<text x="95.2" y="394.7" font-size="12.3" text-anchor="start" font-weight="normal" fill="#fff" stroke="#fff" stroke-width="0.22" >Sample</text>
<text x="151.8" y="345.1" font-size="13.7" text-anchor="middle" font-weight="normal" fill="#111" stroke="#111" stroke-width="0.22" >Time Average</text>
<text x="15" y="460" font-size="13" text-anchor="middle" font-weight="normal" fill="#111" stroke="#111" stroke-width="0.22" >y</text>
<text x="138.5" y="575.5" font-size="13" text-anchor="middle" font-weight="normal" fill="#111" stroke="#111" stroke-width="0.22" >x</text>
<clipPath id="clipe00"><rect x="263.5" y="350" width="98.5" height="100.6"/></clipPath>
<g clip-path="url(#clipe00)"><g filter="url(#hotE)">
<rect x="243.5" y="330" width="138.5" height="140.6" fill="#000"/>
<ellipse cx="315.7" cy="389.8" rx="20.5" ry="11.6" fill="url(#g6)" transform="rotate(-4 315.7 389.8)" style="mix-blend-mode:plus-lighter"/>
<ellipse cx="309.5" cy="413.7" rx="21.3" ry="12.5" fill="url(#g7)" transform="rotate(-2 309.5 413.7)" style="mix-blend-mode:plus-lighter"/>
</g></g>
<clipPath id="clipe01"><rect x="369" y="350" width="98.5" height="100.8"/></clipPath>
<g clip-path="url(#clipe01)"><g filter="url(#hotE)">
<rect x="349" y="330" width="138.5" height="140.8" fill="#000"/>
<ellipse cx="424.1" cy="396" rx="19.5" ry="10.8" fill="url(#g8)" transform="rotate(28 424.1 396)" style="mix-blend-mode:plus-lighter"/>
<ellipse cx="409.5" cy="411.1" rx="20.5" ry="12" fill="url(#g9)" transform="rotate(30 409.5 411.1)" style="mix-blend-mode:plus-lighter"/>
</g></g>
<clipPath id="clipe10"><rect x="263.5" y="462.3" width="98.5" height="100.4"/></clipPath>
<g clip-path="url(#clipe10)"><g filter="url(#hotE)">
<rect x="243.5" y="442.3" width="138.5" height="140.4" fill="#000"/>
<ellipse cx="300.6" cy="515" rx="14.5" ry="17.5" fill="url(#g10)" transform="rotate(0 300.6 515)" style="mix-blend-mode:plus-lighter"/>
<ellipse cx="328.1" cy="516" rx="12.3" ry="17.8" fill="url(#g11)" transform="rotate(0 328.1 516)" style="mix-blend-mode:plus-lighter"/>
</g></g>
<clipPath id="clipe11"><rect x="369" y="462.8" width="98.5" height="99.9"/></clipPath>
<g clip-path="url(#clipe11)"><g filter="url(#hotE)">
<rect x="349" y="442.8" width="138.5" height="139.9" fill="#000"/>
<ellipse cx="410.4" cy="505.8" rx="18.5" ry="11.5" fill="url(#g12)" transform="rotate(-35 410.4 505.8)" style="mix-blend-mode:plus-lighter"/>
<ellipse cx="430.7" cy="520.4" rx="19.5" ry="12.3" fill="url(#g13)" transform="rotate(-40 430.7 520.4)" style="mix-blend-mode:plus-lighter"/>
</g></g>
<line x1="339.4" y1="436.3" x2="351" y2="436.3" stroke="#fff" stroke-width="0.9"/>
<path d="M352.5,436.3 L349.9,438.1 L349.9,434.5 Z" fill="#fff"/>
<path d="M337.9,436.3 L340.5,438.1 L340.5,434.5 Z" fill="#fff"/>
<line x1="445.46" y1="432.76" x2="453.74" y2="441.04" stroke="#fff" stroke-width="0.9"/>
<path d="M454.8,442.1 L451.69,441.53 L454.23,438.99 Z" fill="#fff"/>
<path d="M444.4,431.7 L444.97,434.81 L447.51,432.27 Z" fill="#fff"/>
<line x1="348.1" y1="543.5" x2="348.1" y2="554.5" stroke="#fff" stroke-width="0.9"/>
<path d="M348.1,556 L346.3,553.4 L349.9,553.4 Z" fill="#fff"/>
<path d="M348.1,542 L346.3,544.6 L349.9,544.6 Z" fill="#fff"/>
<line x1="449.57" y1="551.84" x2="457.93" y2="543.56" stroke="#fff" stroke-width="0.9"/>
<path d="M459,542.5 L458.42,545.61 L455.89,543.05 Z" fill="#fff"/>
<path d="M448.5,552.9 L451.61,552.35 L449.08,549.79 Z" fill="#fff"/>
<text x="364.7" y="345.7" font-size="14.5" text-anchor="middle" font-weight="normal" fill="#111" stroke="#111" stroke-width="0.22" >Polization</text>
<text x="252.7" y="408" font-size="13" text-anchor="middle" font-weight="normal" fill="#111" stroke="#111" stroke-width="0.22" >y</text>
<text x="252.7" y="515" font-size="13" text-anchor="middle" font-weight="normal" fill="#111" stroke="#111" stroke-width="0.22" >y</text>
<text x="321.25" y="575.5" font-size="13" text-anchor="middle" font-weight="normal" fill="#111" stroke="#111" stroke-width="0.22" >x</text>
<text x="428.75" y="575.5" font-size="13" text-anchor="middle" font-weight="normal" fill="#111" stroke="#111" stroke-width="0.22" >x</text>
<clipPath id="clipf"><rect x="481" y="350.2" width="178" height="212"/></clipPath>
<g clip-path="url(#clipf)"><g filter="url(#hotF)">
<rect x="461" y="330.2" width="218" height="252" fill="#000"/>
<ellipse cx="560" cy="405" rx="90" ry="120" fill="url(#g14)" transform="rotate(0 560 405)" style="mix-blend-mode:plus-lighter"/>
<ellipse cx="568" cy="515" rx="90" ry="144" fill="url(#g15)" transform="rotate(0 568 515)" style="mix-blend-mode:plus-lighter"/>
<ellipse cx="540" cy="505" rx="36" ry="90" fill="url(#g16)" transform="rotate(0 540 505)" style="mix-blend-mode:plus-lighter"/>
<ellipse cx="502" cy="450" rx="24" ry="150" fill="url(#g17)" transform="rotate(0 502 450)" style="mix-blend-mode:plus-lighter"/>
<ellipse cx="622" cy="425" rx="24" ry="120" fill="url(#g18)" transform="rotate(0 622 425)" style="mix-blend-mode:plus-lighter"/>
<ellipse cx="566" cy="356" rx="96" ry="27" fill="url(#g19)" transform="rotate(0 566 356)" style="mix-blend-mode:plus-lighter"/>
<ellipse cx="491.02" cy="392" rx="10.5" ry="36" fill="url(#g20)" transform="rotate(-3.4 491.02 392)" style="mix-blend-mode:plus-lighter"/>
<ellipse cx="492.22" cy="412" rx="10.5" ry="36" fill="url(#g21)" transform="rotate(-3.4 492.22 412)" style="mix-blend-mode:plus-lighter"/>
<ellipse cx="493.42" cy="432" rx="10.5" ry="36" fill="url(#g22)" transform="rotate(-3.4 493.42 432)" style="mix-blend-mode:plus-lighter"/>
<ellipse cx="507.98" cy="378" rx="13.5" ry="36" fill="url(#g23)" transform="rotate(-3.4 507.98 378)" style="mix-blend-mode:plus-lighter"/>
<ellipse cx="509.09" cy="396.5" rx="13.5" ry="36" fill="url(#g24)" transform="rotate(-3.4 509.09 396.5)" style="mix-blend-mode:plus-lighter"/>
<ellipse cx="510.2" cy="415" rx="13.5" ry="36" fill="url(#g25)" transform="rotate(-3.4 510.2 415)" style="mix-blend-mode:plus-lighter"/>
<ellipse cx="525.92" cy="362" rx="18.6" ry="36" fill="url(#g26)" transform="rotate(-3.4 525.92 362)" style="mix-blend-mode:plus-lighter"/>
<ellipse cx="527.12" cy="382" rx="18.6" ry="36" fill="url(#g27)" transform="rotate(-3.4 527.12 382)" style="mix-blend-mode:plus-lighter"/>
<ellipse cx="528.32" cy="402" rx="18.6" ry="36" fill="url(#g28)" transform="rotate(-3.4 528.32 402)" style="mix-blend-mode:plus-lighter"/>
<ellipse cx="529.52" cy="422" rx="18.6" ry="36" fill="url(#g29)" transform="rotate(-3.4 529.52 422)" style="mix-blend-mode:plus-lighter"/>
<ellipse cx="530.72" cy="442" rx="18.6" ry="36" fill="url(#g30)" transform="rotate(-3.4 530.72 442)" style="mix-blend-mode:plus-lighter"/>
<ellipse cx="544.2" cy="360" rx="18.6" ry="36" fill="url(#g31)" transform="rotate(-3.4 544.2 360)" style="mix-blend-mode:plus-lighter"/>
<ellipse cx="545.48" cy="381.25" rx="18.6" ry="36" fill="url(#g32)" transform="rotate(-3.4 545.48 381.25)" style="mix-blend-mode:plus-lighter"/>
<ellipse cx="546.75" cy="402.5" rx="18.6" ry="36" fill="url(#g33)" transform="rotate(-3.4 546.75 402.5)" style="mix-blend-mode:plus-lighter"/>
<ellipse cx="548.02" cy="423.75" rx="18.6" ry="36" fill="url(#g34)" transform="rotate(-3.4 548.02 423.75)" style="mix-blend-mode:plus-lighter"/>
<ellipse cx="549.3" cy="445" rx="18.6" ry="36" fill="url(#g35)" transform="rotate(-3.4 549.3 445)" style="mix-blend-mode:plus-lighter"/>
<ellipse cx="562.9" cy="360" rx="18.6" ry="36" fill="url(#g36)" transform="rotate(-3.4 562.9 360)" style="mix-blend-mode:plus-lighter"/>
<ellipse cx="564.13" cy="380.5" rx="18.6" ry="36" fill="url(#g37)" transform="rotate(-3.4 564.13 380.5)" style="mix-blend-mode:plus-lighter"/>
<ellipse cx="565.36" cy="401" rx="18.6" ry="36" fill="url(#g38)" transform="rotate(-3.4 565.36 401)" style="mix-blend-mode:plus-lighter"/>
<ellipse cx="566.59" cy="421.5" rx="18.6" ry="36" fill="url(#g39)" transform="rotate(-3.4 566.59 421.5)" style="mix-blend-mode:plus-lighter"/>
<ellipse cx="567.82" cy="442" rx="18.6" ry="36" fill="url(#g40)" transform="rotate(-3.4 567.82 442)" style="mix-blend-mode:plus-lighter"/>
<ellipse cx="582.22" cy="362" rx="18" ry="36" fill="url(#g41)" transform="rotate(-3.4 582.22 362)" style="mix-blend-mode:plus-lighter"/>
<ellipse cx="583.68" cy="386.33" rx="18" ry="36" fill="url(#g42)" transform="rotate(-3.4 583.68 386.33)" style="mix-blend-mode:plus-lighter"/>
<ellipse cx="585.14" cy="410.67" rx="18" ry="36" fill="url(#g43)" transform="rotate(-3.4 585.14 410.67)" style="mix-blend-mode:plus-lighter"/>
<ellipse cx="586.6" cy="435" rx="18" ry="36" fill="url(#g44)" transform="rotate(-3.4 586.6 435)" style="mix-blend-mode:plus-lighter"/>
<ellipse cx="602.32" cy="372" rx="15" ry="36" fill="url(#g45)" transform="rotate(-3.4 602.32 372)" style="mix-blend-mode:plus-lighter"/>
<ellipse cx="603.76" cy="396" rx="15" ry="36" fill="url(#g46)" transform="rotate(-3.4 603.76 396)" style="mix-blend-mode:plus-lighter"/>
<ellipse cx="605.2" cy="420" rx="15" ry="36" fill="url(#g47)" transform="rotate(-3.4 605.2 420)" style="mix-blend-mode:plus-lighter"/>
<ellipse cx="618.1" cy="385" rx="12" ry="36" fill="url(#g48)" transform="rotate(-3.4 618.1 385)" style="mix-blend-mode:plus-lighter"/>
<ellipse cx="619.3" cy="405" rx="12" ry="36" fill="url(#g49)" transform="rotate(-3.4 619.3 405)" style="mix-blend-mode:plus-lighter"/>
<ellipse cx="620.5" cy="425" rx="12" ry="36" fill="url(#g50)" transform="rotate(-3.4 620.5 425)" style="mix-blend-mode:plus-lighter"/>
<ellipse cx="517.8" cy="400" rx="5.7" ry="102" fill="url(#g51)" transform="rotate(-3.4 517.8 400)"/>
<ellipse cx="537.2" cy="400" rx="5.7" ry="102" fill="url(#g52)" transform="rotate(-3.4 537.2 400)"/>
<ellipse cx="555.6" cy="400" rx="5.7" ry="102" fill="url(#g53)" transform="rotate(-3.4 555.6 400)"/>
<ellipse cx="574.8" cy="400" rx="5.7" ry="102" fill="url(#g54)" transform="rotate(-3.4 574.8 400)"/>
<ellipse cx="595" cy="400" rx="5.7" ry="102" fill="url(#g55)" transform="rotate(-3.4 595 400)"/>
<ellipse cx="611.5" cy="400" rx="5.7" ry="102" fill="url(#g56)" transform="rotate(-3.4 611.5 400)"/>
<ellipse cx="534" cy="452" rx="12" ry="21" fill="url(#g57)" transform="rotate(-10 534 452)" style="mix-blend-mode:plus-lighter"/>
<ellipse cx="551" cy="450" rx="12" ry="21" fill="url(#g58)" transform="rotate(-10 551 450)" style="mix-blend-mode:plus-lighter"/>
<ellipse cx="569" cy="447" rx="13.5" ry="21" fill="url(#g59)" transform="rotate(-10 569 447)" style="mix-blend-mode:plus-lighter"/>
<ellipse cx="538" cy="482" rx="12" ry="30" fill="url(#g60)" transform="rotate(-12 538 482)" style="mix-blend-mode:plus-lighter"/>
<ellipse cx="553" cy="492" rx="12" ry="33" fill="url(#g61)" transform="rotate(-14 553 492)" style="mix-blend-mode:plus-lighter"/>
<ellipse cx="572" cy="497" rx="13.5" ry="36" fill="url(#g62)" transform="rotate(-14 572 497)" style="mix-blend-mode:plus-lighter"/>
<ellipse cx="582" cy="472" rx="12" ry="24" fill="url(#g63)" transform="rotate(-14 582 472)" style="mix-blend-mode:plus-lighter"/>
<ellipse cx="556" cy="530" rx="10.5" ry="36" fill="url(#g64)" transform="rotate(-12 556 530)" style="mix-blend-mode:plus-lighter"/>
<ellipse cx="575.5" cy="533" rx="10.5" ry="39" fill="url(#g65)" transform="rotate(-12 575.5 533)" style="mix-blend-mode:plus-lighter"/>
<ellipse cx="594.2" cy="530" rx="10.5" ry="39" fill="url(#g66)" transform="rotate(-12 594.2 530)" style="mix-blend-mode:plus-lighter"/>
<ellipse cx="612" cy="520" rx="9" ry="30" fill="url(#g67)" transform="rotate(-10 612 520)" style="mix-blend-mode:plus-lighter"/>
<ellipse cx="563" cy="466" rx="7.5" ry="21" fill="url(#g68)" transform="rotate(-14 563 466)"/>
<ellipse cx="546" cy="520" rx="6" ry="30" fill="url(#g69)" transform="rotate(-12 546 520)"/>
<ellipse cx="566" cy="522" rx="6.6" ry="36" fill="url(#g70)" transform="rotate(-12 566 522)"/>
<ellipse cx="586.7" cy="522" rx="6.9" ry="39" fill="url(#g71)" transform="rotate(-12 586.7 522)"/>
<ellipse cx="605.4" cy="522" rx="6.9" ry="36" fill="url(#g72)" transform="rotate(-12 605.4 522)"/>
<ellipse cx="606.9" cy="460" rx="9" ry="30" fill="url(#g73)" transform="rotate(-10 606.9 460)"/>
<ellipse cx="530" cy="500" rx="9" ry="42" fill="url(#g74)" transform="rotate(-8 530 500)"/>
</g></g>
<path d="M517.6,350.5 C518.4,359.92 520.87,388.75 522.4,407 C523.93,425.25 525.92,442.83 526.8,460 C527.68,477.17 526.33,497.5 527.7,510 C529.07,522.5 531.28,526.33 535,535 C538.72,543.67 547.5,557.5 550,562" fill="none" stroke="#D0D0D0" stroke-opacity="0.9" stroke-width="0.65"/>
<path d="M533.5,350.5 C533.82,359.92 533.33,388.75 535.4,407 C537.47,425.25 542.77,447.5 545.9,460 C549.03,472.5 551.95,473 554.2,482 C556.45,491 557.65,500.67 559.4,514 C561.15,527.33 563.82,554 564.7,562" fill="none" stroke="#D0D0D0" stroke-opacity="0.9" stroke-width="0.65"/>
<path d="M552,561 C549.72,554.95 540.13,536.4 538.3,524.7 C536.47,513 539.07,490.8 541,490.8 C542.93,490.8 547.7,513 549.9,524.7 C552.1,536.4 553.48,554.95 554.2,561" fill="none" stroke="#D0D0D0" stroke-opacity="0.9" stroke-width="0.65"/>
<path d="M578.2,350.5 C577.98,358.08 575.8,380.25 576.9,396 C578,411.75 580.43,428.83 584.8,445 C589.17,461.17 598.82,479 603.1,493 C607.38,507 608.92,517.5 610.5,529 C612.08,540.5 612.25,556.5 612.6,562" fill="none" stroke="#D0D0D0" stroke-opacity="0.9" stroke-width="0.65"/>
<path d="M592.7,350.5 C592.77,358.08 592.35,380.25 593.1,396 C593.85,411.75 594.2,430.17 597.2,445 C600.2,459.83 609.07,481.25 611.1,485 C613.13,488.75 610.2,474.17 609.4,467.5 C608.6,460.83 607.92,456.92 606.3,445 C604.68,433.08 600.8,411.75 599.7,396 C598.6,380.25 599.7,358.08 599.7,350.5" fill="none" stroke="#D0D0D0" stroke-opacity="0.9" stroke-width="0.65"/>
<path d="M609.2,350.5 C609.03,358.08 607.18,380.25 608.2,396 C609.22,411.75 612.98,429.9 615.3,445 C617.62,460.1 621.32,473.33 622.1,486.6 C622.88,499.87 620.7,512.03 620,524.6 C619.3,537.17 618.25,555.77 617.9,562" fill="none" stroke="#D0D0D0" stroke-opacity="0.9" stroke-width="0.65"/>
<rect x="664.1" y="411.9" width="7.1" height="84.7" fill="url(#cbar)"/>
<text x="676.9" y="418.3" font-size="10.8" text-anchor="middle" font-weight="normal" fill="#111" stroke="#111" stroke-width="0.22" >1</text>
<text x="676.9" y="497.3" font-size="10.8" text-anchor="middle" font-weight="normal" fill="#111" stroke="#111" stroke-width="0.22" >0</text>
<text x="0" y="0" font-size="12.3" text-anchor="middle" font-weight="normal" fill="#111" stroke="#111" stroke-width="0.22" transform="translate(684.2,453.6) rotate(-90)">|E|(arb.u.)</text>
<text x="568.6" y="345.8" font-size="14.6" text-anchor="middle" font-weight="normal" fill="#111" stroke="#111" stroke-width="0.22" >Self-interference</text>
<text x="575.1" y="575.5" font-size="13" text-anchor="middle" font-weight="normal" fill="#111" stroke="#111" stroke-width="0.22" >x</text>
<defs><radialGradient id="g1"><stop offset="0.000" stop-color="#fff" stop-opacity="1.000"/><stop offset="0.560" stop-color="#fff" stop-opacity="1.000"/><stop offset="0.610" stop-color="#fff" stop-opacity="0.800"/><stop offset="0.660" stop-color="#fff" stop-opacity="0.600"/><stop offset="0.713" stop-color="#fff" stop-opacity="0.420"/><stop offset="0.783" stop-color="#fff" stop-opacity="0.240"/><stop offset="0.857" stop-color="#fff" stop-opacity="0.100"/><stop offset="0.927" stop-color="#fff" stop-opacity="0.030"/><stop offset="1.000" stop-color="#fff" stop-opacity="0.000"/></radialGradient><radialGradient id="g2"><stop offset="0.0" stop-color="#fff" stop-opacity="0.350"/><stop offset="0.1" stop-color="#fff" stop-opacity="0.335"/><stop offset="0.2" stop-color="#fff" stop-opacity="0.292"/><stop offset="0.3" stop-color="#fff" stop-opacity="0.233"/><stop offset="0.4" stop-color="#fff" stop-opacity="0.170"/><stop offset="0.5" stop-color="#fff" stop-opacity="0.114"/><stop offset="0.6" stop-color="#fff" stop-opacity="0.069"/><stop offset="0.7" stop-color="#fff" stop-opacity="0.039"/><stop offset="0.8" stop-color="#fff" stop-opacity="0.020"/><stop offset="0.9" stop-color="#fff" stop-opacity="0.009"/><stop offset="1.0" stop-color="#fff" stop-opacity="0.000"/></radialGradient><radialGradient id="g3"><stop offset="0.0" stop-color="#fff" stop-opacity="0.220"/><stop offset="0.1" stop-color="#fff" stop-opacity="0.210"/><stop offset="0.2" stop-color="#fff" stop-opacity="0.184"/><stop offset="0.3" stop-color="#fff" stop-opacity="0.147"/><stop offset="0.4" stop-color="#fff" stop-opacity="0.107"/><stop offset="0.5" stop-color="#fff" stop-opacity="0.071"/><stop offset="0.6" stop-color="#fff" stop-opacity="0.044"/><stop offset="0.7" stop-color="#fff" stop-opacity="0.024"/><stop offset="0.8" stop-color="#fff" stop-opacity="0.012"/><stop offset="0.9" stop-color="#fff" stop-opacity="0.006"/><stop offset="1.0" stop-color="#fff" stop-opacity="0.000"/></radialGradient><radialGradient id="g4"><stop offset="0.0" stop-color="#000" stop-opacity="1.000"/><stop offset="0.1" stop-color="#000" stop-opacity="0.967"/><stop offset="0.2" stop-color="#000" stop-opacity="0.874"/><stop offset="0.3" stop-color="#000" stop-opacity="0.738"/><stop offset="0.4" stop-color="#000" stop-opacity="0.582"/><stop offset="0.5" stop-color="#000" stop-opacity="0.430"/><stop offset="0.6" stop-color="#000" stop-opacity="0.296"/><stop offset="0.7" stop-color="#000" stop-opacity="0.191"/><stop offset="0.8" stop-color="#000" stop-opacity="0.115"/><stop offset="0.9" stop-color="#000" stop-opacity="0.065"/><stop offset="1.0" stop-color="#000" stop-opacity="0.000"/></radialGradient><radialGradient id="g5"><stop offset="0.0" stop-color="#000" stop-opacity="0.330"/><stop offset="0.1" stop-color="#000" stop-opacity="0.315"/><stop offset="0.2" stop-color="#000" stop-opacity="0.276"/><stop offset="0.3" stop-color="#000" stop-opacity="0.220"/><stop offset="0.4" stop-color="#000" stop-opacity="0.161"/><stop offset="0.5" stop-color="#000" stop-opacity="0.107"/><stop offset="0.6" stop-color="#000" stop-opacity="0.065"/><stop offset="0.7" stop-color="#000" stop-opacity="0.036"/><stop offset="0.8" stop-color="#000" stop-opacity="0.019"/><stop offset="0.9" stop-color="#000" stop-opacity="0.009"/><stop offset="1.0" stop-color="#000" stop-opacity="0.000"/></radialGradient><radialGradient id="g6"><stop offset="0.000" stop-color="#fff" stop-opacity="1.000"/><stop offset="0.300" stop-color="#fff" stop-opacity="1.000"/><stop offset="0.440" stop-color="#fff" stop-opacity="0.854"/><stop offset="0.600" stop-color="#fff" stop-opacity="0.602"/><stop offset="0.800" stop-color="#fff" stop-opacity="0.336"/><stop offset="0.900" stop-color="#fff" stop-opacity="0.154"/><stop offset="1.000" stop-color="#fff" stop-opacity="0.028"/></radialGradient><radialGradient id="g7"><stop offset="0.000" stop-color="#fff" stop-opacity="1.000"/><stop offset="0.300" stop-color="#fff" stop-opacity="1.000"/><stop offset="0.440" stop-color="#fff" stop-opacity="0.854"/><stop offset="0.600" stop-color="#fff" stop-opacity="0.602"/><stop offset="0.800" stop-color="#fff" stop-opacity="0.336"/><stop offset="0.900" stop-color="#fff" stop-opacity="0.154"/><stop offset="1.000" stop-color="#fff" stop-opacity="0.028"/></radialGradient><radialGradient id="g8"><stop offset="0.000" stop-color="#fff" stop-opacity="1.000"/><stop offset="0.300" stop-color="#fff" stop-opacity="0.988"/><stop offset="0.440" stop-color="#fff" stop-opacity="0.762"/><stop offset="0.600" stop-color="#fff" stop-opacity="0.537"/><stop offset="0.800" stop-color="#fff" stop-opacity="0.300"/><stop offset="0.900" stop-color="#fff" stop-opacity="0.138"/><stop offset="1.000" stop-color="#fff" stop-opacity="0.025"/></radialGradient><radialGradient id="g9"><stop offset="0.000" stop-color="#fff" stop-opacity="1.000"/><stop offset="0.300" stop-color="#fff" stop-opacity="1.000"/><stop offset="0.440" stop-color="#fff" stop-opacity="0.854"/><stop offset="0.600" stop-color="#fff" stop-opacity="0.602"/><stop offset="0.800" stop-color="#fff" stop-opacity="0.336"/><stop offset="0.900" stop-color="#fff" stop-opacity="0.154"/><stop offset="1.000" stop-color="#fff" stop-opacity="0.028"/></radialGradient><radialGradient id="g10"><stop offset="0.000" stop-color="#fff" stop-opacity="0.580"/><stop offset="0.300" stop-color="#fff" stop-opacity="0.499"/><stop offset="0.550" stop-color="#fff" stop-opacity="0.331"/><stop offset="0.780" stop-color="#fff" stop-opacity="0.162"/><stop offset="0.920" stop-color="#fff" stop-opacity="0.058"/><stop offset="1.000" stop-color="#fff" stop-opacity="0.012"/></radialGradient><radialGradient id="g11"><stop offset="0.000" stop-color="#fff" stop-opacity="0.660"/><stop offset="0.300" stop-color="#fff" stop-opacity="0.568"/><stop offset="0.550" stop-color="#fff" stop-opacity="0.376"/><stop offset="0.780" stop-color="#fff" stop-opacity="0.185"/><stop offset="0.920" stop-color="#fff" stop-opacity="0.066"/><stop offset="1.000" stop-color="#fff" stop-opacity="0.013"/></radialGradient><radialGradient id="g12"><stop offset="0.000" stop-color="#fff" stop-opacity="0.570"/><stop offset="0.300" stop-color="#fff" stop-opacity="0.490"/><stop offset="0.550" stop-color="#fff" stop-opacity="0.325"/><stop offset="0.780" stop-color="#fff" stop-opacity="0.160"/><stop offset="0.920" stop-color="#fff" stop-opacity="0.057"/><stop offset="1.000" stop-color="#fff" stop-opacity="0.011"/></radialGradient><radialGradient id="g13"><stop offset="0.000" stop-color="#fff" stop-opacity="0.660"/><stop offset="0.300" stop-color="#fff" stop-opacity="0.568"/><stop offset="0.550" stop-color="#fff" stop-opacity="0.376"/><stop offset="0.780" stop-color="#fff" stop-opacity="0.185"/><stop offset="0.920" stop-color="#fff" stop-opacity="0.066"/><stop offset="1.000" stop-color="#fff" stop-opacity="0.013"/></radialGradient><radialGradient id="g14"><stop offset="0.0" stop-color="#fff" stop-opacity="0.270"/><stop offset="0.1" stop-color="#fff" stop-opacity="0.258"/><stop offset="0.2" stop-color="#fff" stop-opacity="0.226"/><stop offset="0.3" stop-color="#fff" stop-opacity="0.180"/><stop offset="0.4" stop-color="#fff" stop-opacity="0.131"/><stop offset="0.5" stop-color="#fff" stop-opacity="0.088"/><stop offset="0.6" stop-color="#fff" stop-opacity="0.053"/><stop offset="0.7" stop-color="#fff" stop-opacity="0.030"/><stop offset="0.8" stop-color="#fff" stop-opacity="0.015"/><stop offset="0.9" stop-color="#fff" stop-opacity="0.007"/><stop offset="1.0" stop-color="#fff" stop-opacity="0.000"/></radialGradient><radialGradient id="g15"><stop offset="0.0" stop-color="#fff" stop-opacity="0.300"/><stop offset="0.1" stop-color="#fff" stop-opacity="0.287"/><stop offset="0.2" stop-color="#fff" stop-opacity="0.251"/><stop offset="0.3" stop-color="#fff" stop-opacity="0.200"/><stop offset="0.4" stop-color="#fff" stop-opacity="0.146"/><stop offset="0.5" stop-color="#fff" stop-opacity="0.097"/><stop offset="0.6" stop-color="#fff" stop-opacity="0.059"/><stop offset="0.7" stop-color="#fff" stop-opacity="0.033"/><stop offset="0.8" stop-color="#fff" stop-opacity="0.017"/><stop offset="0.9" stop-color="#fff" stop-opacity="0.008"/><stop offset="1.0" stop-color="#fff" stop-opacity="0.000"/></radialGradient><radialGradient id="g16"><stop offset="0.0" stop-color="#fff" stop-opacity="0.100"/><stop offset="0.1" stop-color="#fff" stop-opacity="0.096"/><stop offset="0.2" stop-color="#fff" stop-opacity="0.084"/><stop offset="0.3" stop-color="#fff" stop-opacity="0.067"/><stop offset="0.4" stop-color="#fff" stop-opacity="0.049"/><stop offset="0.5" stop-color="#fff" stop-opacity="0.032"/><stop offset="0.6" stop-color="#fff" stop-opacity="0.020"/><stop offset="0.7" stop-color="#fff" stop-opacity="0.011"/><stop offset="0.8" stop-color="#fff" stop-opacity="0.006"/><stop offset="0.9" stop-color="#fff" stop-opacity="0.003"/><stop offset="1.0" stop-color="#fff" stop-opacity="0.000"/></radialGradient><radialGradient id="g17"><stop offset="0.0" stop-color="#fff" stop-opacity="0.050"/><stop offset="0.1" stop-color="#fff" stop-opacity="0.048"/><stop offset="0.2" stop-color="#fff" stop-opacity="0.042"/><stop offset="0.3" stop-color="#fff" stop-opacity="0.033"/><stop offset="0.4" stop-color="#fff" stop-opacity="0.024"/><stop offset="0.5" stop-color="#fff" stop-opacity="0.016"/><stop offset="0.6" stop-color="#fff" stop-opacity="0.010"/><stop offset="0.7" stop-color="#fff" stop-opacity="0.006"/><stop offset="0.8" stop-color="#fff" stop-opacity="0.003"/><stop offset="0.9" stop-color="#fff" stop-opacity="0.001"/><stop offset="1.0" stop-color="#fff" stop-opacity="0.000"/></radialGradient><radialGradient id="g18"><stop offset="0.0" stop-color="#fff" stop-opacity="0.060"/><stop offset="0.1" stop-color="#fff" stop-opacity="0.057"/><stop offset="0.2" stop-color="#fff" stop-opacity="0.050"/><stop offset="0.3" stop-color="#fff" stop-opacity="0.040"/><stop offset="0.4" stop-color="#fff" stop-opacity="0.029"/><stop offset="0.5" stop-color="#fff" stop-opacity="0.019"/><stop offset="0.6" stop-color="#fff" stop-opacity="0.012"/><stop offset="0.7" stop-color="#fff" stop-opacity="0.007"/><stop offset="0.8" stop-color="#fff" stop-opacity="0.003"/><stop offset="0.9" stop-color="#fff" stop-opacity="0.002"/><stop offset="1.0" stop-color="#fff" stop-opacity="0.000"/></radialGradient><radialGradient id="g19"><stop offset="0.0" stop-color="#fff" stop-opacity="0.120"/><stop offset="0.1" stop-color="#fff" stop-opacity="0.115"/><stop offset="0.2" stop-color="#fff" stop-opacity="0.100"/><stop offset="0.3" stop-color="#fff" stop-opacity="0.080"/><stop offset="0.4" stop-color="#fff" stop-opacity="0.058"/><stop offset="0.5" stop-color="#fff" stop-opacity="0.039"/><stop offset="0.6" stop-color="#fff" stop-opacity="0.024"/><stop offset="0.7" stop-color="#fff" stop-opacity="0.013"/><stop offset="0.8" stop-color="#fff" stop-opacity="0.007"/><stop offset="0.9" stop-color="#fff" stop-opacity="0.003"/><stop offset="1.0" stop-color="#fff" stop-opacity="0.000"/></radialGradient><radialGradient id="g20"><stop offset="0.0" stop-color="#fff" stop-opacity="0.072"/><stop offset="0.1" stop-color="#fff" stop-opacity="0.069"/><stop offset="0.2" stop-color="#fff" stop-opacity="0.060"/><stop offset="0.3" stop-color="#fff" stop-opacity="0.048"/><stop offset="0.4" stop-color="#fff" stop-opacity="0.035"/><stop offset="0.5" stop-color="#fff" stop-opacity="0.023"/><stop offset="0.6" stop-color="#fff" stop-opacity="0.014"/><stop offset="0.7" stop-color="#fff" stop-opacity="0.008"/><stop offset="0.8" stop-color="#fff" stop-opacity="0.004"/><stop offset="0.9" stop-color="#fff" stop-opacity="0.002"/><stop offset="1.0" stop-color="#fff" stop-opacity="0.000"/></radialGradient><radialGradient id="g21"><stop offset="0.0" stop-color="#fff" stop-opacity="0.072"/><stop offset="0.1" stop-color="#fff" stop-opacity="0.069"/><stop offset="0.2" stop-color="#fff" stop-opacity="0.060"/><stop offset="0.3" stop-color="#fff" stop-opacity="0.048"/><stop offset="0.4" stop-color="#fff" stop-opacity="0.035"/><stop offset="0.5" stop-color="#fff" stop-opacity="0.023"/><stop offset="0.6" stop-color="#fff" stop-opacity="0.014"/><stop offset="0.7" stop-color="#fff" stop-opacity="0.008"/><stop offset="0.8" stop-color="#fff" stop-opacity="0.004"/><stop offset="0.9" stop-color="#fff" stop-opacity="0.002"/><stop offset="1.0" stop-color="#fff" stop-opacity="0.000"/></radialGradient><radialGradient id="g22"><stop offset="0.0" stop-color="#fff" stop-opacity="0.072"/><stop offset="0.1" stop-color="#fff" stop-opacity="0.069"/><stop offset="0.2" stop-color="#fff" stop-opacity="0.060"/><stop offset="0.3" stop-color="#fff" stop-opacity="0.048"/><stop offset="0.4" stop-color="#fff" stop-opacity="0.035"/><stop offset="0.5" stop-color="#fff" stop-opacity="0.023"/><stop offset="0.6" stop-color="#fff" stop-opacity="0.014"/><stop offset="0.7" stop-color="#fff" stop-opacity="0.008"/><stop offset="0.8" stop-color="#fff" stop-opacity="0.004"/><stop offset="0.9" stop-color="#fff" stop-opacity="0.002"/><stop offset="1.0" stop-color="#fff" stop-opacity="0.000"/></radialGradient><radialGradient id="g23"><stop offset="0.0" stop-color="#fff" stop-opacity="0.216"/><stop offset="0.1" stop-color="#fff" stop-opacity="0.206"/><stop offset="0.2" stop-color="#fff" stop-opacity="0.180"/><stop offset="0.3" stop-color="#fff" stop-opacity="0.144"/><stop offset="0.4" stop-color="#fff" stop-opacity="0.105"/><stop offset="0.5" stop-color="#fff" stop-opacity="0.070"/><stop offset="0.6" stop-color="#fff" stop-opacity="0.043"/><stop offset="0.7" stop-color="#fff" stop-opacity="0.024"/><stop offset="0.8" stop-color="#fff" stop-opacity="0.012"/><stop offset="0.9" stop-color="#fff" stop-opacity="0.006"/><stop offset="1.0" stop-color="#fff" stop-opacity="0.000"/></radialGradient><radialGradient id="g24"><stop offset="0.0" stop-color="#fff" stop-opacity="0.216"/><stop offset="0.1" stop-color="#fff" stop-opacity="0.206"/><stop offset="0.2" stop-color="#fff" stop-opacity="0.180"/><stop offset="0.3" stop-color="#fff" stop-opacity="0.144"/><stop offset="0.4" stop-color="#fff" stop-opacity="0.105"/><stop offset="0.5" stop-color="#fff" stop-opacity="0.070"/><stop offset="0.6" stop-color="#fff" stop-opacity="0.043"/><stop offset="0.7" stop-color="#fff" stop-opacity="0.024"/><stop offset="0.8" stop-color="#fff" stop-opacity="0.012"/><stop offset="0.9" stop-color="#fff" stop-opacity="0.006"/><stop offset="1.0" stop-color="#fff" stop-opacity="0.000"/></radialGradient><radialGradient id="g25"><stop offset="0.0" stop-color="#fff" stop-opacity="0.216"/><stop offset="0.1" stop-color="#fff" stop-opacity="0.206"/><stop offset="0.2" stop-color="#fff" stop-opacity="0.180"/><stop offset="0.3" stop-color="#fff" stop-opacity="0.144"/><stop offset="0.4" stop-color="#fff" stop-opacity="0.105"/><stop offset="0.5" stop-color="#fff" stop-opacity="0.070"/><stop offset="0.6" stop-color="#fff" stop-opacity="0.043"/><stop offset="0.7" stop-color="#fff" stop-opacity="0.024"/><stop offset="0.8" stop-color="#fff" stop-opacity="0.012"/><stop offset="0.9" stop-color="#fff" stop-opacity="0.006"/><stop offset="1.0" stop-color="#fff" stop-opacity="0.000"/></radialGradient><radialGradient id="g26"><stop offset="0.0" stop-color="#fff" stop-opacity="0.252"/><stop offset="0.1" stop-color="#fff" stop-opacity="0.241"/><stop offset="0.2" stop-color="#fff" stop-opacity="0.210"/><stop offset="0.3" stop-color="#fff" stop-opacity="0.168"/><stop offset="0.4" stop-color="#fff" stop-opacity="0.123"/><stop offset="0.5" stop-color="#fff" stop-opacity="0.082"/><stop offset="0.6" stop-color="#fff" stop-opacity="0.050"/><stop offset="0.7" stop-color="#fff" stop-opacity="0.028"/><stop offset="0.8" stop-color="#fff" stop-opacity="0.014"/><stop offset="0.9" stop-color="#fff" stop-opacity="0.007"/><stop offset="1.0" stop-color="#fff" stop-opacity="0.000"/></radialGradient><radialGradient id="g27"><stop offset="0.0" stop-color="#fff" stop-opacity="0.252"/><stop offset="0.1" stop-color="#fff" stop-opacity="0.241"/><stop offset="0.2" stop-color="#fff" stop-opacity="0.210"/><stop offset="0.3" stop-color="#fff" stop-opacity="0.168"/><stop offset="0.4" stop-color="#fff" stop-opacity="0.123"/><stop offset="0.5" stop-color="#fff" stop-opacity="0.082"/><stop offset="0.6" stop-color="#fff" stop-opacity="0.050"/><stop offset="0.7" stop-color="#fff" stop-opacity="0.028"/><stop offset="0.8" stop-color="#fff" stop-opacity="0.014"/><stop offset="0.9" stop-color="#fff" stop-opacity="0.007"/><stop offset="1.0" stop-color="#fff" stop-opacity="0.000"/></radialGradient><radialGradient id="g28"><stop offset="0.0" stop-color="#fff" stop-opacity="0.252"/><stop offset="0.1" stop-color="#fff" stop-opacity="0.241"/><stop offset="0.2" stop-color="#fff" stop-opacity="0.210"/><stop offset="0.3" stop-color="#fff" stop-opacity="0.168"/><stop offset="0.4" stop-color="#fff" stop-opacity="0.123"/><stop offset="0.5" stop-color="#fff" stop-opacity="0.082"/><stop offset="0.6" stop-color="#fff" stop-opacity="0.050"/><stop offset="0.7" stop-color="#fff" stop-opacity="0.028"/><stop offset="0.8" stop-color="#fff" stop-opacity="0.014"/><stop offset="0.9" stop-color="#fff" stop-opacity="0.007"/><stop offset="1.0" stop-color="#fff" stop-opacity="0.000"/></radialGradient><radialGradient id="g29"><stop offset="0.0" stop-color="#fff" stop-opacity="0.252"/><stop offset="0.1" stop-color="#fff" stop-opacity="0.241"/><stop offset="0.2" stop-color="#fff" stop-opacity="0.210"/><stop offset="0.3" stop-color="#fff" stop-opacity="0.168"/><stop offset="0.4" stop-color="#fff" stop-opacity="0.123"/><stop offset="0.5" stop-color="#fff" stop-opacity="0.082"/><stop offset="0.6" stop-color="#fff" stop-opacity="0.050"/><stop offset="0.7" stop-color="#fff" stop-opacity="0.028"/><stop offset="0.8" stop-color="#fff" stop-opacity="0.014"/><stop offset="0.9" stop-color="#fff" stop-opacity="0.007"/><stop offset="1.0" stop-color="#fff" stop-opacity="0.000"/></radialGradient><radialGradient id="g30"><stop offset="0.0" stop-color="#fff" stop-opacity="0.252"/><stop offset="0.1" stop-color="#fff" stop-opacity="0.241"/><stop offset="0.2" stop-color="#fff" stop-opacity="0.210"/><stop offset="0.3" stop-color="#fff" stop-opacity="0.168"/><stop offset="0.4" stop-color="#fff" stop-opacity="0.123"/><stop offset="0.5" stop-color="#fff" stop-opacity="0.082"/><stop offset="0.6" stop-color="#fff" stop-opacity="0.050"/><stop offset="0.7" stop-color="#fff" stop-opacity="0.028"/><stop offset="0.8" stop-color="#fff" stop-opacity="0.014"/><stop offset="0.9" stop-color="#fff" stop-opacity="0.007"/><stop offset="1.0" stop-color="#fff" stop-opacity="0.000"/></radialGradient><radialGradient id="g31"><stop offset="0.0" stop-color="#fff" stop-opacity="0.194"/><stop offset="0.1" stop-color="#fff" stop-opacity="0.186"/><stop offset="0.2" stop-color="#fff" stop-opacity="0.162"/><stop offset="0.3" stop-color="#fff" stop-opacity="0.130"/><stop offset="0.4" stop-color="#fff" stop-opacity="0.095"/><stop offset="0.5" stop-color="#fff" stop-opacity="0.063"/><stop offset="0.6" stop-color="#fff" stop-opacity="0.038"/><stop offset="0.7" stop-color="#fff" stop-opacity="0.021"/><stop offset="0.8" stop-color="#fff" stop-opacity="0.011"/><stop offset="0.9" stop-color="#fff" stop-opacity="0.005"/><stop offset="1.0" stop-color="#fff" stop-opacity="0.000"/></radialGradient><radialGradient id="g32"><stop offset="0.0" stop-color="#fff" stop-opacity="0.194"/><stop offset="0.1" stop-color="#fff" stop-opacity="0.186"/><stop offset="0.2" stop-color="#fff" stop-opacity="0.162"/><stop offset="0.3" stop-color="#fff" stop-opacity="0.130"/><stop offset="0.4" stop-color="#fff" stop-opacity="0.095"/><stop offset="0.5" stop-color="#fff" stop-opacity="0.063"/><stop offset="0.6" stop-color="#fff" stop-opacity="0.038"/><stop offset="0.7" stop-color="#fff" stop-opacity="0.021"/><stop offset="0.8" stop-color="#fff" stop-opacity="0.011"/><stop offset="0.9" stop-color="#fff" stop-opacity="0.005"/><stop offset="1.0" stop-color="#fff" stop-opacity="0.000"/></radialGradient><radialGradient id="g33"><stop offset="0.0" stop-color="#fff" stop-opacity="0.194"/><stop offset="0.1" stop-color="#fff" stop-opacity="0.186"/><stop offset="0.2" stop-color="#fff" stop-opacity="0.162"/><stop offset="0.3" stop-color="#fff" stop-opacity="0.130"/><stop offset="0.4" stop-color="#fff" stop-opacity="0.095"/><stop offset="0.5" stop-color="#fff" stop-opacity="0.063"/><stop offset="0.6" stop-color="#fff" stop-opacity="0.038"/><stop offset="0.7" stop-color="#fff" stop-opacity="0.021"/><stop offset="0.8" stop-color="#fff" stop-opacity="0.011"/><stop offset="0.9" stop-color="#fff" stop-opacity="0.005"/><stop offset="1.0" stop-color="#fff" stop-opacity="0.000"/></radialGradient><radialGradient id="g34"><stop offset="0.0" stop-color="#fff" stop-opacity="0.194"/><stop offset="0.1" stop-color="#fff" stop-opacity="0.186"/><stop offset="0.2" stop-color="#fff" stop-opacity="0.162"/><stop offset="0.3" stop-color="#fff" stop-opacity="0.130"/><stop offset="0.4" stop-color="#fff" stop-opacity="0.095"/><stop offset="0.5" stop-color="#fff" stop-opacity="0.063"/><stop offset="0.6" stop-color="#fff" stop-opacity="0.038"/><stop offset="0.7" stop-color="#fff" stop-opacity="0.021"/><stop offset="0.8" stop-color="#fff" stop-opacity="0.011"/><stop offset="0.9" stop-color="#fff" stop-opacity="0.005"/><stop offset="1.0" stop-color="#fff" stop-opacity="0.000"/></radialGradient><radialGradient id="g35"><stop offset="0.0" stop-color="#fff" stop-opacity="0.194"/><stop offset="0.1" stop-color="#fff" stop-opacity="0.186"/><stop offset="0.2" stop-color="#fff" stop-opacity="0.162"/><stop offset="0.3" stop-color="#fff" stop-opacity="0.130"/><stop offset="0.4" stop-color="#fff" stop-opacity="0.095"/><stop offset="0.5" stop-color="#fff" stop-opacity="0.063"/><stop offset="0.6" stop-color="#fff" stop-opacity="0.038"/><stop offset="0.7" stop-color="#fff" stop-opacity="0.021"/><stop offset="0.8" stop-color="#fff" stop-opacity="0.011"/><stop offset="0.9" stop-color="#fff" stop-opacity="0.005"/><stop offset="1.0" stop-color="#fff" stop-opacity="0.000"/></radialGradient><radialGradient id="g36"><stop offset="0.0" stop-color="#fff" stop-opacity="0.187"/><stop offset="0.1" stop-color="#fff" stop-opacity="0.179"/><stop offset="0.2" stop-color="#fff" stop-opacity="0.156"/><stop offset="0.3" stop-color="#fff" stop-opacity="0.125"/><stop offset="0.4" stop-color="#fff" stop-opacity="0.091"/><stop offset="0.5" stop-color="#fff" stop-opacity="0.061"/><stop offset="0.6" stop-color="#fff" stop-opacity="0.037"/><stop offset="0.7" stop-color="#fff" stop-opacity="0.021"/><stop offset="0.8" stop-color="#fff" stop-opacity="0.011"/><stop offset="0.9" stop-color="#fff" stop-opacity="0.005"/><stop offset="1.0" stop-color="#fff" stop-opacity="0.000"/></radialGradient><radialGradient id="g37"><stop offset="0.0" stop-color="#fff" stop-opacity="0.187"/><stop offset="0.1" stop-color="#fff" stop-opacity="0.179"/><stop offset="0.2" stop-color="#fff" stop-opacity="0.156"/><stop offset="0.3" stop-color="#fff" stop-opacity="0.125"/><stop offset="0.4" stop-color="#fff" stop-opacity="0.091"/><stop offset="0.5" stop-color="#fff" stop-opacity="0.061"/><stop offset="0.6" stop-color="#fff" stop-opacity="0.037"/><stop offset="0.7" stop-color="#fff" stop-opacity="0.021"/><stop offset="0.8" stop-color="#fff" stop-opacity="0.011"/><stop offset="0.9" stop-color="#fff" stop-opacity="0.005"/><stop offset="1.0" stop-color="#fff" stop-opacity="0.000"/></radialGradient><radialGradient id="g38"><stop offset="0.0" stop-color="#fff" stop-opacity="0.187"/><stop offset="0.1" stop-color="#fff" stop-opacity="0.179"/><stop offset="0.2" stop-color="#fff" stop-opacity="0.156"/><stop offset="0.3" stop-color="#fff" stop-opacity="0.125"/><stop offset="0.4" stop-color="#fff" stop-opacity="0.091"/><stop offset="0.5" stop-color="#fff" stop-opacity="0.061"/><stop offset="0.6" stop-color="#fff" stop-opacity="0.037"/><stop offset="0.7" stop-color="#fff" stop-opacity="0.021"/><stop offset="0.8" stop-color="#fff" stop-opacity="0.011"/><stop offset="0.9" stop-color="#fff" stop-opacity="0.005"/><stop offset="1.0" stop-color="#fff" stop-opacity="0.000"/></radialGradient><radialGradient id="g39"><stop offset="0.0" stop-color="#fff" stop-opacity="0.187"/><stop offset="0.1" stop-color="#fff" stop-opacity="0.179"/><stop offset="0.2" stop-color="#fff" stop-opacity="0.156"/><stop offset="0.3" stop-color="#fff" stop-opacity="0.125"/><stop offset="0.4" stop-color="#fff" stop-opacity="0.091"/><stop offset="0.5" stop-color="#fff" stop-opacity="0.061"/><stop offset="0.6" stop-color="#fff" stop-opacity="0.037"/><stop offset="0.7" stop-color="#fff" stop-opacity="0.021"/><stop offset="0.8" stop-color="#fff" stop-opacity="0.011"/><stop offset="0.9" stop-color="#fff" stop-opacity="0.005"/><stop offset="1.0" stop-color="#fff" stop-opacity="0.000"/></radialGradient><radialGradient id="g40"><stop offset="0.0" stop-color="#fff" stop-opacity="0.187"/><stop offset="0.1" stop-color="#fff" stop-opacity="0.179"/><stop offset="0.2" stop-color="#fff" stop-opacity="0.156"/><stop offset="0.3" stop-color="#fff" stop-opacity="0.125"/><stop offset="0.4" stop-color="#fff" stop-opacity="0.091"/><stop offset="0.5" stop-color="#fff" stop-opacity="0.061"/><stop offset="0.6" stop-color="#fff" stop-opacity="0.037"/><stop offset="0.7" stop-color="#fff" stop-opacity="0.021"/><stop offset="0.8" stop-color="#fff" stop-opacity="0.011"/><stop offset="0.9" stop-color="#fff" stop-opacity="0.005"/><stop offset="1.0" stop-color="#fff" stop-opacity="0.000"/></radialGradient><radialGradient id="g41"><stop offset="0.0" stop-color="#fff" stop-opacity="0.288"/><stop offset="0.1" stop-color="#fff" stop-opacity="0.275"/><stop offset="0.2" stop-color="#fff" stop-opacity="0.241"/><stop offset="0.3" stop-color="#fff" stop-opacity="0.192"/><stop offset="0.4" stop-color="#fff" stop-opacity="0.140"/><stop offset="0.5" stop-color="#fff" stop-opacity="0.093"/><stop offset="0.6" stop-color="#fff" stop-opacity="0.057"/><stop offset="0.7" stop-color="#fff" stop-opacity="0.032"/><stop offset="0.8" stop-color="#fff" stop-opacity="0.016"/><stop offset="0.9" stop-color="#fff" stop-opacity="0.008"/><stop offset="1.0" stop-color="#fff" stop-opacity="0.000"/></radialGradient><radialGradient id="g42"><stop offset="0.0" stop-color="#fff" stop-opacity="0.288"/><stop offset="0.1" stop-color="#fff" stop-opacity="0.275"/><stop offset="0.2" stop-color="#fff" stop-opacity="0.241"/><stop offset="0.3" stop-color="#fff" stop-opacity="0.192"/><stop offset="0.4" stop-color="#fff" stop-opacity="0.140"/><stop offset="0.5" stop-color="#fff" stop-opacity="0.093"/><stop offset="0.6" stop-color="#fff" stop-opacity="0.057"/><stop offset="0.7" stop-color="#fff" stop-opacity="0.032"/><stop offset="0.8" stop-color="#fff" stop-opacity="0.016"/><stop offset="0.9" stop-color="#fff" stop-opacity="0.008"/><stop offset="1.0" stop-color="#fff" stop-opacity="0.000"/></radialGradient><radialGradient id="g43"><stop offset="0.0" stop-color="#fff" stop-opacity="0.288"/><stop offset="0.1" stop-color="#fff" stop-opacity="0.275"/><stop offset="0.2" stop-color="#fff" stop-opacity="0.241"/><stop offset="0.3" stop-color="#fff" stop-opacity="0.192"/><stop offset="0.4" stop-color="#fff" stop-opacity="0.140"/><stop offset="0.5" stop-color="#fff" stop-opacity="0.093"/><stop offset="0.6" stop-color="#fff" stop-opacity="0.057"/><stop offset="0.7" stop-color="#fff" stop-opacity="0.032"/><stop offset="0.8" stop-color="#fff" stop-opacity="0.016"/><stop offset="0.9" stop-color="#fff" stop-opacity="0.008"/><stop offset="1.0" stop-color="#fff" stop-opacity="0.000"/></radialGradient><radialGradient id="g44"><stop offset="0.0" stop-color="#fff" stop-opacity="0.288"/><stop offset="0.1" stop-color="#fff" stop-opacity="0.275"/><stop offset="0.2" stop-color="#fff" stop-opacity="0.241"/><stop offset="0.3" stop-color="#fff" stop-opacity="0.192"/><stop offset="0.4" stop-color="#fff" stop-opacity="0.140"/><stop offset="0.5" stop-color="#fff" stop-opacity="0.093"/><stop offset="0.6" stop-color="#fff" stop-opacity="0.057"/><stop offset="0.7" stop-color="#fff" stop-opacity="0.032"/><stop offset="0.8" stop-color="#fff" stop-opacity="0.016"/><stop offset="0.9" stop-color="#fff" stop-opacity="0.008"/><stop offset="1.0" stop-color="#fff" stop-opacity="0.000"/></radialGradient><radialGradient id="g45"><stop offset="0.0" stop-color="#fff" stop-opacity="0.245"/><stop offset="0.1" stop-color="#fff" stop-opacity="0.234"/><stop offset="0.2" stop-color="#fff" stop-opacity="0.204"/><stop offset="0.3" stop-color="#fff" stop-opacity="0.163"/><stop offset="0.4" stop-color="#fff" stop-opacity="0.119"/><stop offset="0.5" stop-color="#fff" stop-opacity="0.079"/><stop offset="0.6" stop-color="#fff" stop-opacity="0.048"/><stop offset="0.7" stop-color="#fff" stop-opacity="0.027"/><stop offset="0.8" stop-color="#fff" stop-opacity="0.014"/><stop offset="0.9" stop-color="#fff" stop-opacity="0.006"/><stop offset="1.0" stop-color="#fff" stop-opacity="0.000"/></radialGradient><radialGradient id="g46"><stop offset="0.0" stop-color="#fff" stop-opacity="0.245"/><stop offset="0.1" stop-color="#fff" stop-opacity="0.234"/><stop offset="0.2" stop-color="#fff" stop-opacity="0.204"/><stop offset="0.3" stop-color="#fff" stop-opacity="0.163"/><stop offset="0.4" stop-color="#fff" stop-opacity="0.119"/><stop offset="0.5" stop-color="#fff" stop-opacity="0.079"/><stop offset="0.6" stop-color="#fff" stop-opacity="0.048"/><stop offset="0.7" stop-color="#fff" stop-opacity="0.027"/><stop offset="0.8" stop-color="#fff" stop-opacity="0.014"/><stop offset="0.9" stop-color="#fff" stop-opacity="0.006"/><stop offset="1.0" stop-color="#fff" stop-opacity="0.000"/></radialGradient><radialGradient id="g47"><stop offset="0.0" stop-color="#fff" stop-opacity="0.245"/><stop offset="0.1" stop-color="#fff" stop-opacity="0.234"/><stop offset="0.2" stop-color="#fff" stop-opacity="0.204"/><stop offset="0.3" stop-color="#fff" stop-opacity="0.163"/><stop offset="0.4" stop-color="#fff" stop-opacity="0.119"/><stop offset="0.5" stop-color="#fff" stop-opacity="0.079"/><stop offset="0.6" stop-color="#fff" stop-opacity="0.048"/><stop offset="0.7" stop-color="#fff" stop-opacity="0.027"/><stop offset="0.8" stop-color="#fff" stop-opacity="0.014"/><stop offset="0.9" stop-color="#fff" stop-opacity="0.006"/><stop offset="1.0" stop-color="#fff" stop-opacity="0.000"/></radialGradient><radialGradient id="g48"><stop offset="0.0" stop-color="#fff" stop-opacity="0.058"/><stop offset="0.1" stop-color="#fff" stop-opacity="0.055"/><stop offset="0.2" stop-color="#fff" stop-opacity="0.048"/><stop offset="0.3" stop-color="#fff" stop-opacity="0.038"/><stop offset="0.4" stop-color="#fff" stop-opacity="0.028"/><stop offset="0.5" stop-color="#fff" stop-opacity="0.019"/><stop offset="0.6" stop-color="#fff" stop-opacity="0.011"/><stop offset="0.7" stop-color="#fff" stop-opacity="0.006"/><stop offset="0.8" stop-color="#fff" stop-opacity="0.003"/><stop offset="0.9" stop-color="#fff" stop-opacity="0.002"/><stop offset="1.0" stop-color="#fff" stop-opacity="0.000"/></radialGradient><radialGradient id="g49"><stop offset="0.0" stop-color="#fff" stop-opacity="0.058"/><stop offset="0.1" stop-color="#fff" stop-opacity="0.055"/><stop offset="0.2" stop-color="#fff" stop-opacity="0.048"/><stop offset="0.3" stop-color="#fff" stop-opacity="0.038"/><stop offset="0.4" stop-color="#fff" stop-opacity="0.028"/><stop offset="0.5" stop-color="#fff" stop-opacity="0.019"/><stop offset="0.6" stop-color="#fff" stop-opacity="0.011"/><stop offset="0.7" stop-color="#fff" stop-opacity="0.006"/><stop offset="0.8" stop-color="#fff" stop-opacity="0.003"/><stop offset="0.9" stop-color="#fff" stop-opacity="0.002"/><stop offset="1.0" stop-color="#fff" stop-opacity="0.000"/></radialGradient><radialGradient id="g50"><stop offset="0.0" stop-color="#fff" stop-opacity="0.058"/><stop offset="0.1" stop-color="#fff" stop-opacity="0.055"/><stop offset="0.2" stop-color="#fff" stop-opacity="0.048"/><stop offset="0.3" stop-color="#fff" stop-opacity="0.038"/><stop offset="0.4" stop-color="#fff" stop-opacity="0.028"/><stop offset="0.5" stop-color="#fff" stop-opacity="0.019"/><stop offset="0.6" stop-color="#fff" stop-opacity="0.011"/><stop offset="0.7" stop-color="#fff" stop-opacity="0.006"/><stop offset="0.8" stop-color="#fff" stop-opacity="0.003"/><stop offset="0.9" stop-color="#fff" stop-opacity="0.002"/><stop offset="1.0" stop-color="#fff" stop-opacity="0.000"/></radialGradient><radialGradient id="g51"><stop offset="0.0" stop-color="#000" stop-opacity="0.700"/><stop offset="0.1" stop-color="#000" stop-opacity="0.669"/><stop offset="0.2" stop-color="#000" stop-opacity="0.585"/><stop offset="0.3" stop-color="#000" stop-opacity="0.467"/><stop offset="0.4" stop-color="#000" stop-opacity="0.341"/><stop offset="0.5" stop-color="#000" stop-opacity="0.227"/><stop offset="0.6" stop-color="#000" stop-opacity="0.139"/><stop offset="0.7" stop-color="#000" stop-opacity="0.077"/><stop offset="0.8" stop-color="#000" stop-opacity="0.039"/><stop offset="0.9" stop-color="#000" stop-opacity="0.018"/><stop offset="1.0" stop-color="#000" stop-opacity="0.000"/></radialGradient><radialGradient id="g52"><stop offset="0.0" stop-color="#000" stop-opacity="0.600"/><stop offset="0.1" stop-color="#000" stop-opacity="0.574"/><stop offset="0.2" stop-color="#000" stop-opacity="0.501"/><stop offset="0.3" stop-color="#000" stop-opacity="0.400"/><stop offset="0.4" stop-color="#000" stop-opacity="0.292"/><stop offset="0.5" stop-color="#000" stop-opacity="0.195"/><stop offset="0.6" stop-color="#000" stop-opacity="0.119"/><stop offset="0.7" stop-color="#000" stop-opacity="0.066"/><stop offset="0.8" stop-color="#000" stop-opacity="0.034"/><stop offset="0.9" stop-color="#000" stop-opacity="0.016"/><stop offset="1.0" stop-color="#000" stop-opacity="0.000"/></radialGradient><radialGradient id="g53"><stop offset="0.0" stop-color="#000" stop-opacity="0.600"/><stop offset="0.1" stop-color="#000" stop-opacity="0.574"/><stop offset="0.2" stop-color="#000" stop-opacity="0.501"/><stop offset="0.3" stop-color="#000" stop-opacity="0.400"/><stop offset="0.4" stop-color="#000" stop-opacity="0.292"/><stop offset="0.5" stop-color="#000" stop-opacity="0.195"/><stop offset="0.6" stop-color="#000" stop-opacity="0.119"/><stop offset="0.7" stop-color="#000" stop-opacity="0.066"/><stop offset="0.8" stop-color="#000" stop-opacity="0.034"/><stop offset="0.9" stop-color="#000" stop-opacity="0.016"/><stop offset="1.0" stop-color="#000" stop-opacity="0.000"/></radialGradient><radialGradient id="g54"><stop offset="0.0" stop-color="#000" stop-opacity="0.620"/><stop offset="0.1" stop-color="#000" stop-opacity="0.593"/><stop offset="0.2" stop-color="#000" stop-opacity="0.518"/><stop offset="0.3" stop-color="#000" stop-opacity="0.414"/><stop offset="0.4" stop-color="#000" stop-opacity="0.302"/><stop offset="0.5" stop-color="#000" stop-opacity="0.201"/><stop offset="0.6" stop-color="#000" stop-opacity="0.123"/><stop offset="0.7" stop-color="#000" stop-opacity="0.068"/><stop offset="0.8" stop-color="#000" stop-opacity="0.035"/><stop offset="0.9" stop-color="#000" stop-opacity="0.016"/><stop offset="1.0" stop-color="#000" stop-opacity="0.000"/></radialGradient><radialGradient id="g55"><stop offset="0.0" stop-color="#000" stop-opacity="0.550"/><stop offset="0.1" stop-color="#000" stop-opacity="0.526"/><stop offset="0.2" stop-color="#000" stop-opacity="0.459"/><stop offset="0.3" stop-color="#000" stop-opacity="0.367"/><stop offset="0.4" stop-color="#000" stop-opacity="0.268"/><stop offset="0.5" stop-color="#000" stop-opacity="0.179"/><stop offset="0.6" stop-color="#000" stop-opacity="0.109"/><stop offset="0.7" stop-color="#000" stop-opacity="0.061"/><stop offset="0.8" stop-color="#000" stop-opacity="0.031"/><stop offset="0.9" stop-color="#000" stop-opacity="0.014"/><stop offset="1.0" stop-color="#000" stop-opacity="0.000"/></radialGradient><radialGradient id="g56"><stop offset="0.0" stop-color="#000" stop-opacity="0.350"/><stop offset="0.1" stop-color="#000" stop-opacity="0.335"/><stop offset="0.2" stop-color="#000" stop-opacity="0.292"/><stop offset="0.3" stop-color="#000" stop-opacity="0.233"/><stop offset="0.4" stop-color="#000" stop-opacity="0.170"/><stop offset="0.5" stop-color="#000" stop-opacity="0.114"/><stop offset="0.6" stop-color="#000" stop-opacity="0.069"/><stop offset="0.7" stop-color="#000" stop-opacity="0.039"/><stop offset="0.8" stop-color="#000" stop-opacity="0.020"/><stop offset="0.9" stop-color="#000" stop-opacity="0.009"/><stop offset="1.0" stop-color="#000" stop-opacity="0.000"/></radialGradient><radialGradient id="g57"><stop offset="0.0" stop-color="#fff" stop-opacity="0.120"/><stop offset="0.1" stop-color="#fff" stop-opacity="0.115"/><stop offset="0.2" stop-color="#fff" stop-opacity="0.100"/><stop offset="0.3" stop-color="#fff" stop-opacity="0.080"/><stop offset="0.4" stop-color="#fff" stop-opacity="0.058"/><stop offset="0.5" stop-color="#fff" stop-opacity="0.039"/><stop offset="0.6" stop-color="#fff" stop-opacity="0.024"/><stop offset="0.7" stop-color="#fff" stop-opacity="0.013"/><stop offset="0.8" stop-color="#fff" stop-opacity="0.007"/><stop offset="0.9" stop-color="#fff" stop-opacity="0.003"/><stop offset="1.0" stop-color="#fff" stop-opacity="0.000"/></radialGradient><radialGradient id="g58"><stop offset="0.0" stop-color="#fff" stop-opacity="0.120"/><stop offset="0.1" stop-color="#fff" stop-opacity="0.115"/><stop offset="0.2" stop-color="#fff" stop-opacity="0.100"/><stop offset="0.3" stop-color="#fff" stop-opacity="0.080"/><stop offset="0.4" stop-color="#fff" stop-opacity="0.058"/><stop offset="0.5" stop-color="#fff" stop-opacity="0.039"/><stop offset="0.6" stop-color="#fff" stop-opacity="0.024"/><stop offset="0.7" stop-color="#fff" stop-opacity="0.013"/><stop offset="0.8" stop-color="#fff" stop-opacity="0.007"/><stop offset="0.9" stop-color="#fff" stop-opacity="0.003"/><stop offset="1.0" stop-color="#fff" stop-opacity="0.000"/></radialGradient><radialGradient id="g59"><stop offset="0.0" stop-color="#fff" stop-opacity="0.100"/><stop offset="0.1" stop-color="#fff" stop-opacity="0.096"/><stop offset="0.2" stop-color="#fff" stop-opacity="0.084"/><stop offset="0.3" stop-color="#fff" stop-opacity="0.067"/><stop offset="0.4" stop-color="#fff" stop-opacity="0.049"/><stop offset="0.5" stop-color="#fff" stop-opacity="0.032"/><stop offset="0.6" stop-color="#fff" stop-opacity="0.020"/><stop offset="0.7" stop-color="#fff" stop-opacity="0.011"/><stop offset="0.8" stop-color="#fff" stop-opacity="0.006"/><stop offset="0.9" stop-color="#fff" stop-opacity="0.003"/><stop offset="1.0" stop-color="#fff" stop-opacity="0.000"/></radialGradient><radialGradient id="g60"><stop offset="0.0" stop-color="#fff" stop-opacity="0.120"/><stop offset="0.1" stop-color="#fff" stop-opacity="0.115"/><stop offset="0.2" stop-color="#fff" stop-opacity="0.100"/><stop offset="0.3" stop-color="#fff" stop-opacity="0.080"/><stop offset="0.4" stop-color="#fff" stop-opacity="0.058"/><stop offset="0.5" stop-color="#fff" stop-opacity="0.039"/><stop offset="0.6" stop-color="#fff" stop-opacity="0.024"/><stop offset="0.7" stop-color="#fff" stop-opacity="0.013"/><stop offset="0.8" stop-color="#fff" stop-opacity="0.007"/><stop offset="0.9" stop-color="#fff" stop-opacity="0.003"/><stop offset="1.0" stop-color="#fff" stop-opacity="0.000"/></radialGradient><radialGradient id="g61"><stop offset="0.0" stop-color="#fff" stop-opacity="0.140"/><stop offset="0.1" stop-color="#fff" stop-opacity="0.134"/><stop offset="0.2" stop-color="#fff" stop-opacity="0.117"/><stop offset="0.3" stop-color="#fff" stop-opacity="0.093"/><stop offset="0.4" stop-color="#fff" stop-opacity="0.068"/><stop offset="0.5" stop-color="#fff" stop-opacity="0.045"/><stop offset="0.6" stop-color="#fff" stop-opacity="0.028"/><stop offset="0.7" stop-color="#fff" stop-opacity="0.015"/><stop offset="0.8" stop-color="#fff" stop-opacity="0.008"/><stop offset="0.9" stop-color="#fff" stop-opacity="0.004"/><stop offset="1.0" stop-color="#fff" stop-opacity="0.000"/></radialGradient><radialGradient id="g62"><stop offset="0.0" stop-color="#fff" stop-opacity="0.160"/><stop offset="0.1" stop-color="#fff" stop-opacity="0.153"/><stop offset="0.2" stop-color="#fff" stop-opacity="0.134"/><stop offset="0.3" stop-color="#fff" stop-opacity="0.107"/><stop offset="0.4" stop-color="#fff" stop-opacity="0.078"/><stop offset="0.5" stop-color="#fff" stop-opacity="0.052"/><stop offset="0.6" stop-color="#fff" stop-opacity="0.032"/><stop offset="0.7" stop-color="#fff" stop-opacity="0.018"/><stop offset="0.8" stop-color="#fff" stop-opacity="0.009"/><stop offset="0.9" stop-color="#fff" stop-opacity="0.004"/><stop offset="1.0" stop-color="#fff" stop-opacity="0.000"/></radialGradient><radialGradient id="g63"><stop offset="0.0" stop-color="#fff" stop-opacity="0.100"/><stop offset="0.1" stop-color="#fff" stop-opacity="0.096"/><stop offset="0.2" stop-color="#fff" stop-opacity="0.084"/><stop offset="0.3" stop-color="#fff" stop-opacity="0.067"/><stop offset="0.4" stop-color="#fff" stop-opacity="0.049"/><stop offset="0.5" stop-color="#fff" stop-opacity="0.032"/><stop offset="0.6" stop-color="#fff" stop-opacity="0.020"/><stop offset="0.7" stop-color="#fff" stop-opacity="0.011"/><stop offset="0.8" stop-color="#fff" stop-opacity="0.006"/><stop offset="0.9" stop-color="#fff" stop-opacity="0.003"/><stop offset="1.0" stop-color="#fff" stop-opacity="0.000"/></radialGradient><radialGradient id="g64"><stop offset="0.0" stop-color="#fff" stop-opacity="0.150"/><stop offset="0.1" stop-color="#fff" stop-opacity="0.143"/><stop offset="0.2" stop-color="#fff" stop-opacity="0.125"/><stop offset="0.3" stop-color="#fff" stop-opacity="0.100"/><stop offset="0.4" stop-color="#fff" stop-opacity="0.073"/><stop offset="0.5" stop-color="#fff" stop-opacity="0.049"/><stop offset="0.6" stop-color="#fff" stop-opacity="0.030"/><stop offset="0.7" stop-color="#fff" stop-opacity="0.017"/><stop offset="0.8" stop-color="#fff" stop-opacity="0.008"/><stop offset="0.9" stop-color="#fff" stop-opacity="0.004"/><stop offset="1.0" stop-color="#fff" stop-opacity="0.000"/></radialGradient><radialGradient id="g65"><stop offset="0.0" stop-color="#fff" stop-opacity="0.170"/><stop offset="0.1" stop-color="#fff" stop-opacity="0.163"/><stop offset="0.2" stop-color="#fff" stop-opacity="0.142"/><stop offset="0.3" stop-color="#fff" stop-opacity="0.113"/><stop offset="0.4" stop-color="#fff" stop-opacity="0.083"/><stop offset="0.5" stop-color="#fff" stop-opacity="0.055"/><stop offset="0.6" stop-color="#fff" stop-opacity="0.034"/><stop offset="0.7" stop-color="#fff" stop-opacity="0.019"/><stop offset="0.8" stop-color="#fff" stop-opacity="0.010"/><stop offset="0.9" stop-color="#fff" stop-opacity="0.004"/><stop offset="1.0" stop-color="#fff" stop-opacity="0.000"/></radialGradient><radialGradient id="g66"><stop offset="0.0" stop-color="#fff" stop-opacity="0.160"/><stop offset="0.1" stop-color="#fff" stop-opacity="0.153"/><stop offset="0.2" stop-color="#fff" stop-opacity="0.134"/><stop offset="0.3" stop-color="#fff" stop-opacity="0.107"/><stop offset="0.4" stop-color="#fff" stop-opacity="0.078"/><stop offset="0.5" stop-color="#fff" stop-opacity="0.052"/><stop offset="0.6" stop-color="#fff" stop-opacity="0.032"/><stop offset="0.7" stop-color="#fff" stop-opacity="0.018"/><stop offset="0.8" stop-color="#fff" stop-opacity="0.009"/><stop offset="0.9" stop-color="#fff" stop-opacity="0.004"/><stop offset="1.0" stop-color="#fff" stop-opacity="0.000"/></radialGradient><radialGradient id="g67"><stop offset="0.0" stop-color="#fff" stop-opacity="0.060"/><stop offset="0.1" stop-color="#fff" stop-opacity="0.057"/><stop offset="0.2" stop-color="#fff" stop-opacity="0.050"/><stop offset="0.3" stop-color="#fff" stop-opacity="0.040"/><stop offset="0.4" stop-color="#fff" stop-opacity="0.029"/><stop offset="0.5" stop-color="#fff" stop-opacity="0.019"/><stop offset="0.6" stop-color="#fff" stop-opacity="0.012"/><stop offset="0.7" stop-color="#fff" stop-opacity="0.007"/><stop offset="0.8" stop-color="#fff" stop-opacity="0.003"/><stop offset="0.9" stop-color="#fff" stop-opacity="0.002"/><stop offset="1.0" stop-color="#fff" stop-opacity="0.000"/></radialGradient><radialGradient id="g68"><stop offset="0.0" stop-color="#000" stop-opacity="0.550"/><stop offset="0.1" stop-color="#000" stop-opacity="0.526"/><stop offset="0.2" stop-color="#000" stop-opacity="0.459"/><stop offset="0.3" stop-color="#000" stop-opacity="0.367"/><stop offset="0.4" stop-color="#000" stop-opacity="0.268"/><stop offset="0.5" stop-color="#000" stop-opacity="0.179"/><stop offset="0.6" stop-color="#000" stop-opacity="0.109"/><stop offset="0.7" stop-color="#000" stop-opacity="0.061"/><stop offset="0.8" stop-color="#000" stop-opacity="0.031"/><stop offset="0.9" stop-color="#000" stop-opacity="0.014"/><stop offset="1.0" stop-color="#000" stop-opacity="0.000"/></radialGradient><radialGradient id="g69"><stop offset="0.0" stop-color="#000" stop-opacity="0.350"/><stop offset="0.1" stop-color="#000" stop-opacity="0.335"/><stop offset="0.2" stop-color="#000" stop-opacity="0.292"/><stop offset="0.3" stop-color="#000" stop-opacity="0.233"/><stop offset="0.4" stop-color="#000" stop-opacity="0.170"/><stop offset="0.5" stop-color="#000" stop-opacity="0.114"/><stop offset="0.6" stop-color="#000" stop-opacity="0.069"/><stop offset="0.7" stop-color="#000" stop-opacity="0.039"/><stop offset="0.8" stop-color="#000" stop-opacity="0.020"/><stop offset="0.9" stop-color="#000" stop-opacity="0.009"/><stop offset="1.0" stop-color="#000" stop-opacity="0.000"/></radialGradient><radialGradient id="g70"><stop offset="0.0" stop-color="#000" stop-opacity="0.620"/><stop offset="0.1" stop-color="#000" stop-opacity="0.593"/><stop offset="0.2" stop-color="#000" stop-opacity="0.518"/><stop offset="0.3" stop-color="#000" stop-opacity="0.414"/><stop offset="0.4" stop-color="#000" stop-opacity="0.302"/><stop offset="0.5" stop-color="#000" stop-opacity="0.201"/><stop offset="0.6" stop-color="#000" stop-opacity="0.123"/><stop offset="0.7" stop-color="#000" stop-opacity="0.068"/><stop offset="0.8" stop-color="#000" stop-opacity="0.035"/><stop offset="0.9" stop-color="#000" stop-opacity="0.016"/><stop offset="1.0" stop-color="#000" stop-opacity="0.000"/></radialGradient><radialGradient id="g71"><stop offset="0.0" stop-color="#000" stop-opacity="0.700"/><stop offset="0.1" stop-color="#000" stop-opacity="0.669"/><stop offset="0.2" stop-color="#000" stop-opacity="0.585"/><stop offset="0.3" stop-color="#000" stop-opacity="0.467"/><stop offset="0.4" stop-color="#000" stop-opacity="0.341"/><stop offset="0.5" stop-color="#000" stop-opacity="0.227"/><stop offset="0.6" stop-color="#000" stop-opacity="0.139"/><stop offset="0.7" stop-color="#000" stop-opacity="0.077"/><stop offset="0.8" stop-color="#000" stop-opacity="0.039"/><stop offset="0.9" stop-color="#000" stop-opacity="0.018"/><stop offset="1.0" stop-color="#000" stop-opacity="0.000"/></radialGradient><radialGradient id="g72"><stop offset="0.0" stop-color="#000" stop-opacity="0.650"/><stop offset="0.1" stop-color="#000" stop-opacity="0.621"/><stop offset="0.2" stop-color="#000" stop-opacity="0.543"/><stop offset="0.3" stop-color="#000" stop-opacity="0.434"/><stop offset="0.4" stop-color="#000" stop-opacity="0.316"/><stop offset="0.5" stop-color="#000" stop-opacity="0.211"/><stop offset="0.6" stop-color="#000" stop-opacity="0.129"/><stop offset="0.7" stop-color="#000" stop-opacity="0.072"/><stop offset="0.8" stop-color="#000" stop-opacity="0.036"/><stop offset="0.9" stop-color="#000" stop-opacity="0.017"/><stop offset="1.0" stop-color="#000" stop-opacity="0.000"/></radialGradient><radialGradient id="g73"><stop offset="0.0" stop-color="#000" stop-opacity="0.600"/><stop offset="0.1" stop-color="#000" stop-opacity="0.574"/><stop offset="0.2" stop-color="#000" stop-opacity="0.501"/><stop offset="0.3" stop-color="#000" stop-opacity="0.400"/><stop offset="0.4" stop-color="#000" stop-opacity="0.292"/><stop offset="0.5" stop-color="#000" stop-opacity="0.195"/><stop offset="0.6" stop-color="#000" stop-opacity="0.119"/><stop offset="0.7" stop-color="#000" stop-opacity="0.066"/><stop offset="0.8" stop-color="#000" stop-opacity="0.034"/><stop offset="0.9" stop-color="#000" stop-opacity="0.016"/><stop offset="1.0" stop-color="#000" stop-opacity="0.000"/></radialGradient><radialGradient id="g74"><stop offset="0.0" stop-color="#000" stop-opacity="0.300"/><stop offset="0.1" stop-color="#000" stop-opacity="0.287"/><stop offset="0.2" stop-color="#000" stop-opacity="0.251"/><stop offset="0.3" stop-color="#000" stop-opacity="0.200"/><stop offset="0.4" stop-color="#000" stop-opacity="0.146"/><stop offset="0.5" stop-color="#000" stop-opacity="0.097"/><stop offset="0.6" stop-color="#000" stop-opacity="0.059"/><stop offset="0.7" stop-color="#000" stop-opacity="0.033"/><stop offset="0.8" stop-color="#000" stop-opacity="0.017"/><stop offset="0.9" stop-color="#000" stop-opacity="0.008"/><stop offset="1.0" stop-color="#000" stop-opacity="0.000"/></radialGradient></defs>
</svg>
</body></html>
